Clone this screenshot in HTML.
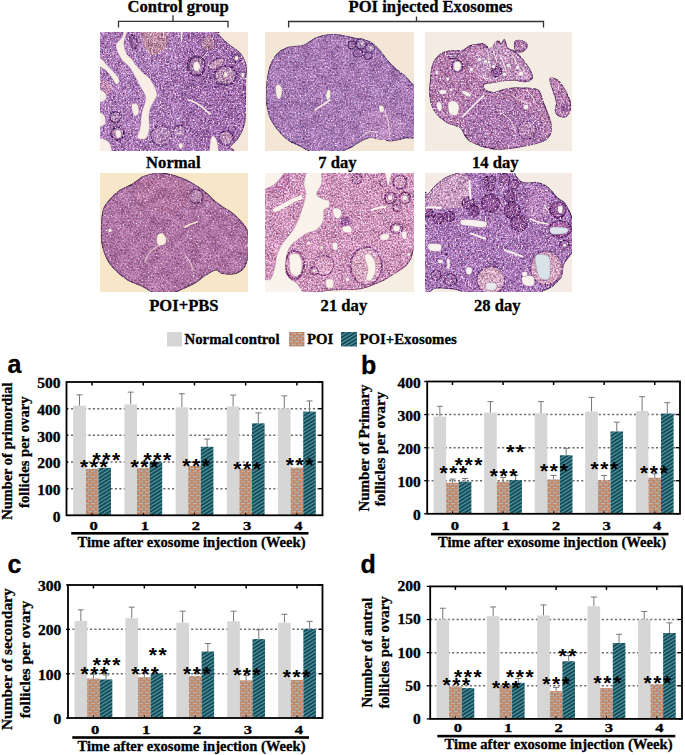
<!DOCTYPE html>
<html><head><meta charset="utf-8"><style>
html,body{margin:0;padding:0;background:#fff;width:685px;height:755px;overflow:hidden}
.t{position:absolute;white-space:nowrap;font-family:"Liberation Serif",serif;font-weight:bold;color:#000;line-height:1}
.p{position:absolute;font-family:"Liberation Sans",sans-serif;font-weight:bold;line-height:1}
</style></head><body>
<svg width="685" height="755" viewBox="0 0 685 755" style="position:absolute;left:0;top:0">
<defs>
<pattern id="brick" patternUnits="userSpaceOnUse" width="6" height="5.4" x="0" y="0">
  <rect width="6" height="5.4" fill="#c97a4c"/>
  <rect x="0.7" y="0.6" width="4.6" height="1.6" fill="#b0b6bd"/>
  <rect x="-2.3" y="3.3" width="4.6" height="1.6" fill="#b0b6bd"/>
  <rect x="3.7" y="3.3" width="4.6" height="1.6" fill="#b0b6bd"/>
</pattern>
<pattern id="teal" patternUnits="userSpaceOnUse" width="3" height="3.1" patternTransform="rotate(-32)">
  <rect width="3" height="3.1" fill="#124c56"/>
  <rect width="3" height="1.1" y="0" fill="#5a99a9"/>
</pattern>
<clipPath id="clip0"><rect x="100" y="32" width="148" height="119"/></clipPath>
<filter id="grain0" x="0" y="0" width="100%" height="100%" color-interpolation-filters="sRGB">
  <feTurbulence type="fractalNoise" baseFrequency="0.6" numOctaves="2" seed="4" result="n0"/>
  <feGaussianBlur in="n0" stdDeviation="0.35" result="n"/>
  <feColorMatrix in="n" type="matrix" values="1 0.3 0 0 -0.15  1 0 0 0 0  1 -0.2 0 0 0.1  0 0 0 0 1" result="nc"/>
  <feComposite in="SourceGraphic" in2="nc" operator="arithmetic" k1="0" k2="1" k3="0.85" k4="-0.425" result="m1"/>
  <feTurbulence type="fractalNoise" baseFrequency="0.1" numOctaves="2" seed="15" result="l0"/>
  <feColorMatrix in="l0" type="matrix" values="1 0 0 0 0  1 0 0 0 0  1 0 0 0 0  0 0 0 0 1" result="lc"/>
  <feComposite in="m1" in2="lc" operator="arithmetic" k1="0" k2="1" k3="0.2" k4="-0.1" result="m"/>
  <feColorMatrix in="n" type="matrix" values="0 0 0 0 0.96  0 0 0 0 0.94  0 0 0 0 0.96  0 0 0 6.0 -3.7" result="w"/>
  <feMerge result="mm"><feMergeNode in="m"/><feMergeNode in="w"/></feMerge>
  <feComposite in="mm" in2="SourceGraphic" operator="in"/>
</filter><clipPath id="clip1"><rect x="265" y="32" width="149" height="119"/></clipPath>
<filter id="grain1" x="0" y="0" width="100%" height="100%" color-interpolation-filters="sRGB">
  <feTurbulence type="fractalNoise" baseFrequency="0.6" numOctaves="2" seed="5" result="n0"/>
  <feGaussianBlur in="n0" stdDeviation="0.35" result="n"/>
  <feColorMatrix in="n" type="matrix" values="1 0.3 0 0 -0.15  1 0 0 0 0  1 -0.2 0 0 0.1  0 0 0 0 1" result="nc"/>
  <feComposite in="SourceGraphic" in2="nc" operator="arithmetic" k1="0" k2="1" k3="0.65" k4="-0.325" result="m1"/>
  <feTurbulence type="fractalNoise" baseFrequency="0.1" numOctaves="2" seed="16" result="l0"/>
  <feColorMatrix in="l0" type="matrix" values="1 0 0 0 0  1 0 0 0 0  1 0 0 0 0  0 0 0 0 1" result="lc"/>
  <feComposite in="m1" in2="lc" operator="arithmetic" k1="0" k2="1" k3="0.2" k4="-0.1" result="m"/>
  <feColorMatrix in="n" type="matrix" values="0 0 0 0 0.96  0 0 0 0 0.94  0 0 0 0 0.96  0 0 0 6.0 -3.95" result="w"/>
  <feMerge result="mm"><feMergeNode in="m"/><feMergeNode in="w"/></feMerge>
  <feComposite in="mm" in2="SourceGraphic" operator="in"/>
</filter><clipPath id="clip2"><rect x="425" y="32" width="147" height="119"/></clipPath>
<filter id="grain2" x="0" y="0" width="100%" height="100%" color-interpolation-filters="sRGB">
  <feTurbulence type="fractalNoise" baseFrequency="0.6" numOctaves="2" seed="6" result="n0"/>
  <feGaussianBlur in="n0" stdDeviation="0.35" result="n"/>
  <feColorMatrix in="n" type="matrix" values="1 0.3 0 0 -0.15  1 0 0 0 0  1 -0.2 0 0 0.1  0 0 0 0 1" result="nc"/>
  <feComposite in="SourceGraphic" in2="nc" operator="arithmetic" k1="0" k2="1" k3="0.85" k4="-0.425" result="m1"/>
  <feTurbulence type="fractalNoise" baseFrequency="0.1" numOctaves="2" seed="17" result="l0"/>
  <feColorMatrix in="l0" type="matrix" values="1 0 0 0 0  1 0 0 0 0  1 0 0 0 0  0 0 0 0 1" result="lc"/>
  <feComposite in="m1" in2="lc" operator="arithmetic" k1="0" k2="1" k3="0.2" k4="-0.1" result="m"/>
  <feColorMatrix in="n" type="matrix" values="0 0 0 0 0.96  0 0 0 0 0.94  0 0 0 0 0.96  0 0 0 6.0 -3.7" result="w"/>
  <feMerge result="mm"><feMergeNode in="m"/><feMergeNode in="w"/></feMerge>
  <feComposite in="mm" in2="SourceGraphic" operator="in"/>
</filter><clipPath id="clip3"><rect x="100" y="173" width="148" height="119"/></clipPath>
<filter id="grain3" x="0" y="0" width="100%" height="100%" color-interpolation-filters="sRGB">
  <feTurbulence type="fractalNoise" baseFrequency="0.6" numOctaves="2" seed="7" result="n0"/>
  <feGaussianBlur in="n0" stdDeviation="0.35" result="n"/>
  <feColorMatrix in="n" type="matrix" values="1 0.3 0 0 -0.15  1 0 0 0 0  1 -0.2 0 0 0.1  0 0 0 0 1" result="nc"/>
  <feComposite in="SourceGraphic" in2="nc" operator="arithmetic" k1="0" k2="1" k3="0.6" k4="-0.3" result="m1"/>
  <feTurbulence type="fractalNoise" baseFrequency="0.1" numOctaves="2" seed="18" result="l0"/>
  <feColorMatrix in="l0" type="matrix" values="1 0 0 0 0  1 0 0 0 0  1 0 0 0 0  0 0 0 0 1" result="lc"/>
  <feComposite in="m1" in2="lc" operator="arithmetic" k1="0" k2="1" k3="0.2" k4="-0.1" result="m"/>
  <feColorMatrix in="n" type="matrix" values="0 0 0 0 0.96  0 0 0 0 0.94  0 0 0 0 0.96  0 0 0 6.0 -4.1" result="w"/>
  <feMerge result="mm"><feMergeNode in="m"/><feMergeNode in="w"/></feMerge>
  <feComposite in="mm" in2="SourceGraphic" operator="in"/>
</filter><clipPath id="clip4"><rect x="265" y="173" width="149" height="119"/></clipPath>
<filter id="grain4" x="0" y="0" width="100%" height="100%" color-interpolation-filters="sRGB">
  <feTurbulence type="fractalNoise" baseFrequency="0.6" numOctaves="2" seed="8" result="n0"/>
  <feGaussianBlur in="n0" stdDeviation="0.35" result="n"/>
  <feColorMatrix in="n" type="matrix" values="1 0.3 0 0 -0.15  1 0 0 0 0  1 -0.2 0 0 0.1  0 0 0 0 1" result="nc"/>
  <feComposite in="SourceGraphic" in2="nc" operator="arithmetic" k1="0" k2="1" k3="0.85" k4="-0.425" result="m1"/>
  <feTurbulence type="fractalNoise" baseFrequency="0.1" numOctaves="2" seed="19" result="l0"/>
  <feColorMatrix in="l0" type="matrix" values="1 0 0 0 0  1 0 0 0 0  1 0 0 0 0  0 0 0 0 1" result="lc"/>
  <feComposite in="m1" in2="lc" operator="arithmetic" k1="0" k2="1" k3="0.2" k4="-0.1" result="m"/>
  <feColorMatrix in="n" type="matrix" values="0 0 0 0 0.96  0 0 0 0 0.94  0 0 0 0 0.96  0 0 0 6.0 -3.7" result="w"/>
  <feMerge result="mm"><feMergeNode in="m"/><feMergeNode in="w"/></feMerge>
  <feComposite in="mm" in2="SourceGraphic" operator="in"/>
</filter><clipPath id="clip5"><rect x="425" y="173" width="147" height="119"/></clipPath>
<filter id="grain5" x="0" y="0" width="100%" height="100%" color-interpolation-filters="sRGB">
  <feTurbulence type="fractalNoise" baseFrequency="0.6" numOctaves="2" seed="9" result="n0"/>
  <feGaussianBlur in="n0" stdDeviation="0.35" result="n"/>
  <feColorMatrix in="n" type="matrix" values="1 0.3 0 0 -0.15  1 0 0 0 0  1 -0.2 0 0 0.1  0 0 0 0 1" result="nc"/>
  <feComposite in="SourceGraphic" in2="nc" operator="arithmetic" k1="0" k2="1" k3="0.85" k4="-0.425" result="m1"/>
  <feTurbulence type="fractalNoise" baseFrequency="0.1" numOctaves="2" seed="20" result="l0"/>
  <feColorMatrix in="l0" type="matrix" values="1 0 0 0 0  1 0 0 0 0  1 0 0 0 0  0 0 0 0 1" result="lc"/>
  <feComposite in="m1" in2="lc" operator="arithmetic" k1="0" k2="1" k3="0.2" k4="-0.1" result="m"/>
  <feColorMatrix in="n" type="matrix" values="0 0 0 0 0.96  0 0 0 0 0.94  0 0 0 0 0.96  0 0 0 6.0 -3.7" result="w"/>
  <feMerge result="mm"><feMergeNode in="m"/><feMergeNode in="w"/></feMerge>
  <feComposite in="mm" in2="SourceGraphic" operator="in"/>
</filter></defs>
<line x1="66.5" y1="488.64" x2="322.5" y2="488.64" stroke="#6a6a6a" stroke-width="1.5" stroke-dasharray="2.1,2.3"/>
<line x1="66.5" y1="461.98" x2="322.5" y2="461.98" stroke="#6a6a6a" stroke-width="1.5" stroke-dasharray="2.1,2.3"/>
<line x1="66.5" y1="435.32" x2="322.5" y2="435.32" stroke="#6a6a6a" stroke-width="1.5" stroke-dasharray="2.1,2.3"/>
<line x1="66.5" y1="408.66" x2="322.5" y2="408.66" stroke="#6a6a6a" stroke-width="1.5" stroke-dasharray="2.1,2.3"/>
<line x1="79.50" y1="405.73" x2="79.50" y2="394.80" stroke="#777" stroke-width="1"/>
<line x1="76.50" y1="394.80" x2="82.50" y2="394.80" stroke="#777" stroke-width="1"/>
<rect x="73.20" y="405.73" width="12.6" height="109.57" fill="#d6d6d6"/>
<rect x="85.80" y="468.64" width="12.6" height="46.65" fill="url(#brick)"/>
<rect x="98.40" y="467.85" width="12.6" height="47.45" fill="url(#teal)"/>
<line x1="92.10" y1="382" x2="92.10" y2="385.5" stroke="#000" stroke-width="1.5"/>
<line x1="92.10" y1="515.3" x2="92.10" y2="512.8" stroke="#000" stroke-width="1"/>
<line x1="130.70" y1="404.39" x2="130.70" y2="392.13" stroke="#777" stroke-width="1"/>
<line x1="127.70" y1="392.13" x2="133.70" y2="392.13" stroke="#777" stroke-width="1"/>
<rect x="124.40" y="404.39" width="12.6" height="110.91" fill="#d6d6d6"/>
<rect x="137.00" y="467.85" width="12.6" height="47.45" fill="url(#brick)"/>
<rect x="149.60" y="461.71" width="12.6" height="53.59" fill="url(#teal)"/>
<line x1="143.30" y1="382" x2="143.30" y2="385.5" stroke="#000" stroke-width="1.5"/>
<line x1="143.30" y1="515.3" x2="143.30" y2="512.8" stroke="#000" stroke-width="1"/>
<line x1="181.90" y1="407.33" x2="181.90" y2="393.73" stroke="#777" stroke-width="1"/>
<line x1="178.90" y1="393.73" x2="184.90" y2="393.73" stroke="#777" stroke-width="1"/>
<rect x="175.60" y="407.33" width="12.6" height="107.97" fill="#d6d6d6"/>
<rect x="188.20" y="465.98" width="12.6" height="49.32" fill="url(#brick)"/>
<line x1="207.10" y1="446.78" x2="207.10" y2="439.05" stroke="#777" stroke-width="1"/>
<line x1="204.10" y1="439.05" x2="210.10" y2="439.05" stroke="#777" stroke-width="1"/>
<rect x="200.80" y="446.78" width="12.6" height="68.52" fill="url(#teal)"/>
<line x1="194.50" y1="382" x2="194.50" y2="385.5" stroke="#000" stroke-width="1.5"/>
<line x1="194.50" y1="515.3" x2="194.50" y2="512.8" stroke="#000" stroke-width="1"/>
<line x1="233.10" y1="406.53" x2="233.10" y2="395.06" stroke="#777" stroke-width="1"/>
<line x1="230.10" y1="395.06" x2="236.10" y2="395.06" stroke="#777" stroke-width="1"/>
<rect x="226.80" y="406.53" width="12.6" height="108.77" fill="#d6d6d6"/>
<rect x="239.40" y="468.64" width="12.6" height="46.65" fill="url(#brick)"/>
<line x1="258.30" y1="423.32" x2="258.30" y2="412.93" stroke="#777" stroke-width="1"/>
<line x1="255.30" y1="412.93" x2="261.30" y2="412.93" stroke="#777" stroke-width="1"/>
<rect x="252.00" y="423.32" width="12.6" height="91.98" fill="url(#teal)"/>
<line x1="245.70" y1="382" x2="245.70" y2="385.5" stroke="#000" stroke-width="1.5"/>
<line x1="245.70" y1="515.3" x2="245.70" y2="512.8" stroke="#000" stroke-width="1"/>
<line x1="284.30" y1="408.39" x2="284.30" y2="395.86" stroke="#777" stroke-width="1"/>
<line x1="281.30" y1="395.86" x2="287.30" y2="395.86" stroke="#777" stroke-width="1"/>
<rect x="278.00" y="408.39" width="12.6" height="106.91" fill="#d6d6d6"/>
<rect x="290.60" y="467.58" width="12.6" height="47.72" fill="url(#brick)"/>
<line x1="309.50" y1="411.59" x2="309.50" y2="400.93" stroke="#777" stroke-width="1"/>
<line x1="306.50" y1="400.93" x2="312.50" y2="400.93" stroke="#777" stroke-width="1"/>
<rect x="303.20" y="411.59" width="12.6" height="103.71" fill="url(#teal)"/>
<line x1="296.90" y1="382" x2="296.90" y2="385.5" stroke="#000" stroke-width="1.5"/>
<line x1="296.90" y1="515.3" x2="296.90" y2="512.8" stroke="#000" stroke-width="1"/>
<line x1="66.5" y1="515.30" x2="68.0" y2="515.30" stroke="#000" stroke-width="1.3"/>
<line x1="318.5" y1="515.30" x2="322.5" y2="515.30" stroke="#000" stroke-width="1.3"/>
<line x1="66.5" y1="488.64" x2="68.0" y2="488.64" stroke="#000" stroke-width="1.3"/>
<line x1="318.5" y1="488.64" x2="322.5" y2="488.64" stroke="#000" stroke-width="1.3"/>
<line x1="66.5" y1="461.98" x2="68.0" y2="461.98" stroke="#000" stroke-width="1.3"/>
<line x1="318.5" y1="461.98" x2="322.5" y2="461.98" stroke="#000" stroke-width="1.3"/>
<line x1="66.5" y1="435.32" x2="68.0" y2="435.32" stroke="#000" stroke-width="1.3"/>
<line x1="318.5" y1="435.32" x2="322.5" y2="435.32" stroke="#000" stroke-width="1.3"/>
<line x1="66.5" y1="408.66" x2="68.0" y2="408.66" stroke="#000" stroke-width="1.3"/>
<line x1="318.5" y1="408.66" x2="322.5" y2="408.66" stroke="#000" stroke-width="1.3"/>
<line x1="66.5" y1="382.00" x2="68.0" y2="382.00" stroke="#000" stroke-width="1.3"/>
<line x1="318.5" y1="382.00" x2="322.5" y2="382.00" stroke="#000" stroke-width="1.3"/>
<rect x="66.5" y="382" width="256.0" height="133.29999999999995" fill="none" stroke="#000" stroke-width="1.8"/>
<line x1="427.2" y1="480.72" x2="680" y2="480.72" stroke="#6a6a6a" stroke-width="1.5" stroke-dasharray="2.1,2.3"/>
<line x1="427.2" y1="447.65" x2="680" y2="447.65" stroke="#6a6a6a" stroke-width="1.5" stroke-dasharray="2.1,2.3"/>
<line x1="427.2" y1="414.57" x2="680" y2="414.57" stroke="#6a6a6a" stroke-width="1.5" stroke-dasharray="2.1,2.3"/>
<line x1="439.88" y1="416.56" x2="439.88" y2="406.31" stroke="#777" stroke-width="1"/>
<line x1="436.88" y1="406.31" x2="442.88" y2="406.31" stroke="#777" stroke-width="1"/>
<rect x="433.58" y="416.56" width="12.6" height="97.24" fill="#d6d6d6"/>
<line x1="452.48" y1="482.71" x2="452.48" y2="479.07" stroke="#777" stroke-width="1"/>
<line x1="449.48" y1="479.07" x2="455.48" y2="479.07" stroke="#777" stroke-width="1"/>
<rect x="446.18" y="482.71" width="12.6" height="31.09" fill="url(#brick)"/>
<line x1="465.08" y1="481.72" x2="465.08" y2="478.41" stroke="#777" stroke-width="1"/>
<line x1="462.08" y1="478.41" x2="468.08" y2="478.41" stroke="#777" stroke-width="1"/>
<rect x="458.78" y="481.72" width="12.6" height="32.08" fill="url(#teal)"/>
<line x1="452.48" y1="381.5" x2="452.48" y2="385.0" stroke="#000" stroke-width="1.5"/>
<line x1="452.48" y1="513.8" x2="452.48" y2="511.29999999999995" stroke="#000" stroke-width="1"/>
<line x1="490.44" y1="412.59" x2="490.44" y2="401.68" stroke="#777" stroke-width="1"/>
<line x1="487.44" y1="401.68" x2="493.44" y2="401.68" stroke="#777" stroke-width="1"/>
<rect x="484.14" y="412.59" width="12.6" height="101.21" fill="#d6d6d6"/>
<line x1="503.04" y1="481.72" x2="503.04" y2="477.42" stroke="#777" stroke-width="1"/>
<line x1="500.04" y1="477.42" x2="506.04" y2="477.42" stroke="#777" stroke-width="1"/>
<rect x="496.74" y="481.72" width="12.6" height="32.08" fill="url(#brick)"/>
<line x1="515.64" y1="480.06" x2="515.64" y2="475.10" stroke="#777" stroke-width="1"/>
<line x1="512.64" y1="475.10" x2="518.64" y2="475.10" stroke="#777" stroke-width="1"/>
<rect x="509.34" y="480.06" width="12.6" height="33.74" fill="url(#teal)"/>
<line x1="503.04" y1="381.5" x2="503.04" y2="385.0" stroke="#000" stroke-width="1.5"/>
<line x1="503.04" y1="513.8" x2="503.04" y2="511.29999999999995" stroke="#000" stroke-width="1"/>
<line x1="541.00" y1="413.25" x2="541.00" y2="401.68" stroke="#777" stroke-width="1"/>
<line x1="538.00" y1="401.68" x2="544.00" y2="401.68" stroke="#777" stroke-width="1"/>
<rect x="534.70" y="413.25" width="12.6" height="100.55" fill="#d6d6d6"/>
<line x1="553.60" y1="479.40" x2="553.60" y2="475.43" stroke="#777" stroke-width="1"/>
<line x1="550.60" y1="475.43" x2="556.60" y2="475.43" stroke="#777" stroke-width="1"/>
<rect x="547.30" y="479.40" width="12.6" height="34.40" fill="url(#brick)"/>
<line x1="566.20" y1="455.26" x2="566.20" y2="448.31" stroke="#777" stroke-width="1"/>
<line x1="563.20" y1="448.31" x2="569.20" y2="448.31" stroke="#777" stroke-width="1"/>
<rect x="559.90" y="455.26" width="12.6" height="58.54" fill="url(#teal)"/>
<line x1="553.60" y1="381.5" x2="553.60" y2="385.0" stroke="#000" stroke-width="1.5"/>
<line x1="553.60" y1="513.8" x2="553.60" y2="511.29999999999995" stroke="#000" stroke-width="1"/>
<line x1="591.56" y1="411.60" x2="591.56" y2="397.38" stroke="#777" stroke-width="1"/>
<line x1="588.56" y1="397.38" x2="594.56" y2="397.38" stroke="#777" stroke-width="1"/>
<rect x="585.26" y="411.60" width="12.6" height="102.20" fill="#d6d6d6"/>
<line x1="604.16" y1="480.39" x2="604.16" y2="475.43" stroke="#777" stroke-width="1"/>
<line x1="601.16" y1="475.43" x2="607.16" y2="475.43" stroke="#777" stroke-width="1"/>
<rect x="597.86" y="480.39" width="12.6" height="33.41" fill="url(#brick)"/>
<line x1="616.76" y1="431.44" x2="616.76" y2="422.18" stroke="#777" stroke-width="1"/>
<line x1="613.76" y1="422.18" x2="619.76" y2="422.18" stroke="#777" stroke-width="1"/>
<rect x="610.46" y="431.44" width="12.6" height="82.36" fill="url(#teal)"/>
<line x1="604.16" y1="381.5" x2="604.16" y2="385.0" stroke="#000" stroke-width="1.5"/>
<line x1="604.16" y1="513.8" x2="604.16" y2="511.29999999999995" stroke="#000" stroke-width="1"/>
<line x1="642.12" y1="410.94" x2="642.12" y2="396.71" stroke="#777" stroke-width="1"/>
<line x1="639.12" y1="396.71" x2="645.12" y2="396.71" stroke="#777" stroke-width="1"/>
<rect x="635.82" y="410.94" width="12.6" height="102.86" fill="#d6d6d6"/>
<line x1="654.72" y1="477.75" x2="654.72" y2="473.78" stroke="#777" stroke-width="1"/>
<line x1="651.72" y1="473.78" x2="657.72" y2="473.78" stroke="#777" stroke-width="1"/>
<rect x="648.42" y="477.75" width="12.6" height="36.05" fill="url(#brick)"/>
<line x1="667.32" y1="413.58" x2="667.32" y2="402.67" stroke="#777" stroke-width="1"/>
<line x1="664.32" y1="402.67" x2="670.32" y2="402.67" stroke="#777" stroke-width="1"/>
<rect x="661.02" y="413.58" width="12.6" height="100.22" fill="url(#teal)"/>
<line x1="654.72" y1="381.5" x2="654.72" y2="385.0" stroke="#000" stroke-width="1.5"/>
<line x1="654.72" y1="513.8" x2="654.72" y2="511.29999999999995" stroke="#000" stroke-width="1"/>
<line x1="424.2" y1="513.80" x2="427.2" y2="513.80" stroke="#000" stroke-width="1.3"/>
<line x1="676" y1="513.80" x2="680" y2="513.80" stroke="#000" stroke-width="1.3"/>
<line x1="424.2" y1="480.72" x2="427.2" y2="480.72" stroke="#000" stroke-width="1.3"/>
<line x1="676" y1="480.72" x2="680" y2="480.72" stroke="#000" stroke-width="1.3"/>
<line x1="424.2" y1="447.65" x2="427.2" y2="447.65" stroke="#000" stroke-width="1.3"/>
<line x1="676" y1="447.65" x2="680" y2="447.65" stroke="#000" stroke-width="1.3"/>
<line x1="424.2" y1="414.57" x2="427.2" y2="414.57" stroke="#000" stroke-width="1.3"/>
<line x1="676" y1="414.57" x2="680" y2="414.57" stroke="#000" stroke-width="1.3"/>
<line x1="424.2" y1="381.50" x2="427.2" y2="381.50" stroke="#000" stroke-width="1.3"/>
<line x1="676" y1="381.50" x2="680" y2="381.50" stroke="#000" stroke-width="1.3"/>
<rect x="427.2" y="381.5" width="252.8" height="132.29999999999995" fill="none" stroke="#000" stroke-width="1.8"/>
<line x1="68" y1="673.67" x2="322.5" y2="673.67" stroke="#6a6a6a" stroke-width="1.5" stroke-dasharray="2.1,2.3"/>
<line x1="68" y1="629.33" x2="322.5" y2="629.33" stroke="#6a6a6a" stroke-width="1.5" stroke-dasharray="2.1,2.3"/>
<line x1="80.85" y1="620.91" x2="80.85" y2="609.83" stroke="#777" stroke-width="1"/>
<line x1="77.85" y1="609.83" x2="83.85" y2="609.83" stroke="#777" stroke-width="1"/>
<rect x="74.55" y="620.91" width="12.6" height="97.09" fill="#d6d6d6"/>
<line x1="93.45" y1="678.54" x2="93.45" y2="674.11" stroke="#777" stroke-width="1"/>
<line x1="90.45" y1="674.11" x2="96.45" y2="674.11" stroke="#777" stroke-width="1"/>
<rect x="87.15" y="678.54" width="12.6" height="39.46" fill="url(#brick)"/>
<line x1="106.05" y1="679.43" x2="106.05" y2="675.00" stroke="#777" stroke-width="1"/>
<line x1="103.05" y1="675.00" x2="109.05" y2="675.00" stroke="#777" stroke-width="1"/>
<rect x="99.75" y="679.43" width="12.6" height="38.57" fill="url(#teal)"/>
<line x1="93.45" y1="585" x2="93.45" y2="588.5" stroke="#000" stroke-width="1.5"/>
<line x1="93.45" y1="718" x2="93.45" y2="715.5" stroke="#000" stroke-width="1"/>
<line x1="131.75" y1="618.25" x2="131.75" y2="607.17" stroke="#777" stroke-width="1"/>
<line x1="128.75" y1="607.17" x2="134.75" y2="607.17" stroke="#777" stroke-width="1"/>
<rect x="125.45" y="618.25" width="12.6" height="99.75" fill="#d6d6d6"/>
<line x1="144.35" y1="677.21" x2="144.35" y2="673.22" stroke="#777" stroke-width="1"/>
<line x1="141.35" y1="673.22" x2="147.35" y2="673.22" stroke="#777" stroke-width="1"/>
<rect x="138.05" y="677.21" width="12.6" height="40.79" fill="url(#brick)"/>
<rect x="150.65" y="673.22" width="12.6" height="44.78" fill="url(#teal)"/>
<line x1="144.35" y1="585" x2="144.35" y2="588.5" stroke="#000" stroke-width="1.5"/>
<line x1="144.35" y1="718" x2="144.35" y2="715.5" stroke="#000" stroke-width="1"/>
<line x1="182.65" y1="622.68" x2="182.65" y2="611.16" stroke="#777" stroke-width="1"/>
<line x1="179.65" y1="611.16" x2="185.65" y2="611.16" stroke="#777" stroke-width="1"/>
<rect x="176.35" y="622.68" width="12.6" height="95.32" fill="#d6d6d6"/>
<rect x="188.95" y="675.88" width="12.6" height="42.12" fill="url(#brick)"/>
<line x1="207.85" y1="651.50" x2="207.85" y2="643.52" stroke="#777" stroke-width="1"/>
<line x1="204.85" y1="643.52" x2="210.85" y2="643.52" stroke="#777" stroke-width="1"/>
<rect x="201.55" y="651.50" width="12.6" height="66.50" fill="url(#teal)"/>
<line x1="195.25" y1="585" x2="195.25" y2="588.5" stroke="#000" stroke-width="1.5"/>
<line x1="195.25" y1="718" x2="195.25" y2="715.5" stroke="#000" stroke-width="1"/>
<line x1="233.55" y1="621.35" x2="233.55" y2="611.16" stroke="#777" stroke-width="1"/>
<line x1="230.55" y1="611.16" x2="236.55" y2="611.16" stroke="#777" stroke-width="1"/>
<rect x="227.25" y="621.35" width="12.6" height="96.65" fill="#d6d6d6"/>
<line x1="246.15" y1="680.32" x2="246.15" y2="675.44" stroke="#777" stroke-width="1"/>
<line x1="243.15" y1="675.44" x2="249.15" y2="675.44" stroke="#777" stroke-width="1"/>
<rect x="239.85" y="680.32" width="12.6" height="37.68" fill="url(#brick)"/>
<line x1="258.75" y1="639.09" x2="258.75" y2="629.78" stroke="#777" stroke-width="1"/>
<line x1="255.75" y1="629.78" x2="261.75" y2="629.78" stroke="#777" stroke-width="1"/>
<rect x="252.45" y="639.09" width="12.6" height="78.91" fill="url(#teal)"/>
<line x1="246.15" y1="585" x2="246.15" y2="588.5" stroke="#000" stroke-width="1.5"/>
<line x1="246.15" y1="718" x2="246.15" y2="715.5" stroke="#000" stroke-width="1"/>
<line x1="284.45" y1="622.68" x2="284.45" y2="614.26" stroke="#777" stroke-width="1"/>
<line x1="281.45" y1="614.26" x2="287.45" y2="614.26" stroke="#777" stroke-width="1"/>
<rect x="278.15" y="622.68" width="12.6" height="95.32" fill="#d6d6d6"/>
<rect x="290.75" y="679.87" width="12.6" height="38.13" fill="url(#brick)"/>
<line x1="309.65" y1="628.89" x2="309.65" y2="621.35" stroke="#777" stroke-width="1"/>
<line x1="306.65" y1="621.35" x2="312.65" y2="621.35" stroke="#777" stroke-width="1"/>
<rect x="303.35" y="628.89" width="12.6" height="89.11" fill="url(#teal)"/>
<line x1="297.05" y1="585" x2="297.05" y2="588.5" stroke="#000" stroke-width="1.5"/>
<line x1="297.05" y1="718" x2="297.05" y2="715.5" stroke="#000" stroke-width="1"/>
<line x1="66" y1="718.00" x2="69.5" y2="718.00" stroke="#000" stroke-width="1.3"/>
<line x1="318.5" y1="718.00" x2="322.5" y2="718.00" stroke="#000" stroke-width="1.3"/>
<line x1="66" y1="673.67" x2="69.5" y2="673.67" stroke="#000" stroke-width="1.3"/>
<line x1="318.5" y1="673.67" x2="322.5" y2="673.67" stroke="#000" stroke-width="1.3"/>
<line x1="66" y1="629.33" x2="69.5" y2="629.33" stroke="#000" stroke-width="1.3"/>
<line x1="318.5" y1="629.33" x2="322.5" y2="629.33" stroke="#000" stroke-width="1.3"/>
<line x1="66" y1="585.00" x2="69.5" y2="585.00" stroke="#000" stroke-width="1.3"/>
<line x1="318.5" y1="585.00" x2="322.5" y2="585.00" stroke="#000" stroke-width="1.3"/>
<rect x="68" y="585" width="254.5" height="133" fill="none" stroke="#000" stroke-width="1.8"/>
<line x1="430.2" y1="685.77" x2="682" y2="685.77" stroke="#6a6a6a" stroke-width="1.5" stroke-dasharray="2.1,2.3"/>
<line x1="430.2" y1="652.65" x2="682" y2="652.65" stroke="#6a6a6a" stroke-width="1.5" stroke-dasharray="2.1,2.3"/>
<line x1="430.2" y1="619.52" x2="682" y2="619.52" stroke="#6a6a6a" stroke-width="1.5" stroke-dasharray="2.1,2.3"/>
<line x1="442.78" y1="619.52" x2="442.78" y2="608.26" stroke="#777" stroke-width="1"/>
<line x1="439.78" y1="608.26" x2="445.78" y2="608.26" stroke="#777" stroke-width="1"/>
<rect x="436.48" y="619.52" width="12.6" height="99.38" fill="#d6d6d6"/>
<rect x="449.08" y="686.44" width="12.6" height="32.46" fill="url(#brick)"/>
<rect x="461.68" y="688.09" width="12.6" height="30.81" fill="url(#teal)"/>
<line x1="455.38" y1="586.4" x2="455.38" y2="589.9" stroke="#000" stroke-width="1.5"/>
<line x1="455.38" y1="718.9" x2="455.38" y2="716.4" stroke="#000" stroke-width="1"/>
<line x1="493.14" y1="616.21" x2="493.14" y2="606.94" stroke="#777" stroke-width="1"/>
<line x1="490.14" y1="606.94" x2="496.14" y2="606.94" stroke="#777" stroke-width="1"/>
<rect x="486.84" y="616.21" width="12.6" height="102.69" fill="#d6d6d6"/>
<rect x="499.44" y="685.77" width="12.6" height="33.12" fill="url(#brick)"/>
<line x1="518.34" y1="682.79" x2="518.34" y2="678.49" stroke="#777" stroke-width="1"/>
<line x1="515.34" y1="678.49" x2="521.34" y2="678.49" stroke="#777" stroke-width="1"/>
<rect x="512.04" y="682.79" width="12.6" height="36.11" fill="url(#teal)"/>
<line x1="505.74" y1="586.4" x2="505.74" y2="589.9" stroke="#000" stroke-width="1.5"/>
<line x1="505.74" y1="718.9" x2="505.74" y2="716.4" stroke="#000" stroke-width="1"/>
<line x1="543.50" y1="615.55" x2="543.50" y2="604.95" stroke="#777" stroke-width="1"/>
<line x1="540.50" y1="604.95" x2="546.50" y2="604.95" stroke="#777" stroke-width="1"/>
<rect x="537.20" y="615.55" width="12.6" height="103.35" fill="#d6d6d6"/>
<line x1="556.10" y1="691.07" x2="556.10" y2="687.43" stroke="#777" stroke-width="1"/>
<line x1="553.10" y1="687.43" x2="559.10" y2="687.43" stroke="#777" stroke-width="1"/>
<rect x="549.80" y="691.07" width="12.6" height="27.83" fill="url(#brick)"/>
<line x1="568.70" y1="661.26" x2="568.70" y2="655.63" stroke="#777" stroke-width="1"/>
<line x1="565.70" y1="655.63" x2="571.70" y2="655.63" stroke="#777" stroke-width="1"/>
<rect x="562.40" y="661.26" width="12.6" height="57.64" fill="url(#teal)"/>
<line x1="556.10" y1="586.4" x2="556.10" y2="589.9" stroke="#000" stroke-width="1.5"/>
<line x1="556.10" y1="718.9" x2="556.10" y2="716.4" stroke="#000" stroke-width="1"/>
<line x1="593.86" y1="606.27" x2="593.86" y2="597.00" stroke="#777" stroke-width="1"/>
<line x1="590.86" y1="597.00" x2="596.86" y2="597.00" stroke="#777" stroke-width="1"/>
<rect x="587.56" y="606.27" width="12.6" height="112.62" fill="#d6d6d6"/>
<rect x="600.16" y="688.09" width="12.6" height="30.81" fill="url(#brick)"/>
<line x1="619.06" y1="642.98" x2="619.06" y2="634.30" stroke="#777" stroke-width="1"/>
<line x1="616.06" y1="634.30" x2="622.06" y2="634.30" stroke="#777" stroke-width="1"/>
<rect x="612.76" y="642.98" width="12.6" height="75.92" fill="url(#teal)"/>
<line x1="606.46" y1="586.4" x2="606.46" y2="589.9" stroke="#000" stroke-width="1.5"/>
<line x1="606.46" y1="718.9" x2="606.46" y2="716.4" stroke="#000" stroke-width="1"/>
<line x1="644.22" y1="619.52" x2="644.22" y2="611.57" stroke="#777" stroke-width="1"/>
<line x1="641.22" y1="611.57" x2="647.22" y2="611.57" stroke="#777" stroke-width="1"/>
<rect x="637.92" y="619.52" width="12.6" height="99.38" fill="#d6d6d6"/>
<rect x="650.52" y="684.12" width="12.6" height="34.78" fill="url(#brick)"/>
<line x1="669.42" y1="633.04" x2="669.42" y2="622.84" stroke="#777" stroke-width="1"/>
<line x1="666.42" y1="622.84" x2="672.42" y2="622.84" stroke="#777" stroke-width="1"/>
<rect x="663.12" y="633.04" width="12.6" height="85.86" fill="url(#teal)"/>
<line x1="656.82" y1="586.4" x2="656.82" y2="589.9" stroke="#000" stroke-width="1.5"/>
<line x1="656.82" y1="718.9" x2="656.82" y2="716.4" stroke="#000" stroke-width="1"/>
<line x1="426.7" y1="718.90" x2="430.2" y2="718.90" stroke="#000" stroke-width="1.3"/>
<line x1="678" y1="718.90" x2="682" y2="718.90" stroke="#000" stroke-width="1.3"/>
<line x1="426.7" y1="685.77" x2="430.2" y2="685.77" stroke="#000" stroke-width="1.3"/>
<line x1="678" y1="685.77" x2="682" y2="685.77" stroke="#000" stroke-width="1.3"/>
<line x1="426.7" y1="652.65" x2="430.2" y2="652.65" stroke="#000" stroke-width="1.3"/>
<line x1="678" y1="652.65" x2="682" y2="652.65" stroke="#000" stroke-width="1.3"/>
<line x1="426.7" y1="619.52" x2="430.2" y2="619.52" stroke="#000" stroke-width="1.3"/>
<line x1="678" y1="619.52" x2="682" y2="619.52" stroke="#000" stroke-width="1.3"/>
<line x1="426.7" y1="586.40" x2="430.2" y2="586.40" stroke="#000" stroke-width="1.3"/>
<line x1="678" y1="586.40" x2="682" y2="586.40" stroke="#000" stroke-width="1.3"/>
<rect x="430.2" y="586.4" width="251.8" height="132.5" fill="none" stroke="#000" stroke-width="1.8"/>
<g clip-path="url(#clip0)"><rect x="100" y="32" width="148" height="119" fill="#f5e6da"/><g filter="url(#grain0)"><path d="M94.0,26.0 C113.7,4.7 191.5,27.8 212.0,29.0 C232.5,30.2 215.5,31.6 217.0,33.0 C218.5,34.4 219.7,36.1 221.0,37.5 C222.3,38.9 223.3,40.0 225.0,41.5 C226.7,43.0 228.9,44.9 231.0,46.5 C233.1,48.1 236.0,49.4 237.8,51.0 C239.6,52.6 240.8,54.2 242.0,56.0 C243.2,57.8 244.3,60.0 245.0,62.0 C245.7,64.0 246.2,65.0 246.3,68.0 C246.4,71.0 245.8,74.7 245.6,80.0 C245.4,85.3 245.5,93.5 245.4,100.0 C245.3,106.5 245.2,114.9 245.0,119.0 C244.8,123.1 244.7,122.4 244.0,124.8 C243.3,127.2 242.0,131.0 240.7,133.6 C239.4,136.2 238.1,138.0 236.3,140.2 C234.5,142.4 232.1,144.6 229.7,146.7 C227.3,148.8 244.6,151.3 222.0,153.0 C199.4,154.7 115.3,178.2 94.0,157.0 C72.7,135.8 74.3,47.3 94.0,26.0 Z" fill="#a878b4" stroke="#7d4d8a" stroke-width="1.2"/><path d="M185.0,34.0 C188.8,29.7 200.0,33.7 205.0,34.0 C210.0,34.3 210.8,34.0 215.0,36.0 C219.2,38.0 225.5,42.3 230.0,46.0 C234.5,49.7 239.5,52.3 242.0,58.0 C244.5,63.7 244.7,71.3 245.0,80.0 C245.3,88.7 244.8,101.3 244.0,110.0 C243.2,118.7 242.7,126.0 240.0,132.0 C237.3,138.0 234.7,143.3 228.0,146.0 C221.3,148.7 207.2,152.3 200.0,148.0 C192.8,143.7 188.3,129.7 185.0,120.0 C181.7,110.3 180.5,100.0 180.0,90.0 C179.5,80.0 181.2,69.3 182.0,60.0 C182.8,50.7 181.2,38.3 185.0,34.0 Z" fill="#9f6cab"/><path d="M96.0,78.0 C97.3,75.3 101.5,79.0 104.0,80.0 C106.5,81.0 109.7,82.0 111.0,84.0 C112.3,86.0 112.8,90.3 112.0,92.0 C111.2,93.7 108.7,93.3 106.0,94.0 C103.3,94.7 97.7,98.7 96.0,96.0 C94.3,93.3 94.7,80.7 96.0,78.0 Z" fill="#c08ab4"/><path d="M143.0,30.0 C146.7,27.3 162.0,27.7 166.0,30.0 C170.0,32.3 168.0,40.2 167.0,44.0 C166.0,47.8 162.8,51.3 160.0,53.0 C157.2,54.7 152.7,55.2 150.0,54.0 C147.3,52.8 145.2,50.0 144.0,46.0 C142.8,42.0 139.3,32.7 143.0,30.0 Z" fill="#b9889f"/><ellipse cx="207.8" cy="43" rx="7" ry="7.5" fill="#b88aa8" stroke="#8a5a94" stroke-width="1.2"/><ellipse cx="133.5" cy="41.5" rx="3.5" ry="7" fill="#8f5a9a" stroke="#6e3f7c" stroke-width="1.6" transform="rotate(-15 133.5 41.5)"/><ellipse cx="196.4" cy="66" rx="8.5" ry="9.5" fill="#a47aaa" stroke="#5f2f70" stroke-width="2.2"/><ellipse cx="225.4" cy="75.5" rx="11" ry="9.5" fill="#b38ab0" stroke="#6b3a7c" stroke-width="2.0" transform="rotate(-10 225.4 75.5)"/><ellipse cx="216.6" cy="63.8" rx="9" ry="4.5" fill="#bf92b4" stroke="#7a4a88" stroke-width="1.2" transform="rotate(-30 216.6 63.8)"/><ellipse cx="236.3" cy="58.3" rx="4.5" ry="4" fill="#9f6fa9" stroke="#6a3a7a" stroke-width="1.4"/><ellipse cx="115.3" cy="117.2" rx="5.5" ry="5.5" fill="#b088b4" stroke="#6e3f7e" stroke-width="1.6"/><ellipse cx="117.5" cy="133.6" rx="6.5" ry="6.5" fill="#b58cb4" stroke="#6e3f7e" stroke-width="1.8"/><ellipse cx="161.3" cy="135.8" rx="10" ry="10" fill="#b388b8" stroke="#7a4a8a" stroke-width="1.6"/><ellipse cx="179.4" cy="131.4" rx="6" ry="6" fill="#b68fb8" stroke="#7a4a8a" stroke-width="1.3"/><ellipse cx="226.5" cy="138" rx="7" ry="7" fill="#b88cb3" stroke="#74448a" stroke-width="1.5"/><ellipse cx="236" cy="100" rx="7" ry="10" fill="#9d6aa6"/></g><path d="M124.6,29.0 C123.6,30.4 123.2,35.2 121.9,37.5 C120.6,39.8 118.0,41.3 117.0,42.9 C116.0,44.5 115.7,45.5 116.0,47.3 C116.3,49.1 117.5,51.7 118.6,53.9 C119.7,56.1 120.9,58.6 122.5,60.5 C124.1,62.4 126.3,63.6 128.0,65.5 C129.7,67.4 131.0,69.6 132.5,72.0 C134.0,74.4 135.6,77.3 137.0,80.0 C138.4,82.7 139.7,85.5 141.0,88.0 C142.3,90.5 144.2,92.8 145.0,95.0 C145.8,97.2 145.8,99.0 145.5,101.0 C145.2,103.0 144.1,105.2 143.5,107.0 C142.9,108.8 142.4,110.2 142.0,112.0 C141.6,113.8 141.2,115.8 141.0,118.0 C140.8,120.2 140.8,122.7 140.5,125.0 C140.2,127.3 139.5,129.8 139.0,132.0 C138.5,134.2 136.5,136.8 137.5,138.0 C138.5,139.2 143.2,139.8 145.0,139.0 C146.8,138.2 147.8,135.3 148.5,133.0 C149.2,130.7 149.4,127.8 149.5,125.0 C149.6,122.2 148.8,118.8 149.0,116.0 C149.2,113.2 149.7,110.5 150.5,108.0 C151.3,105.5 152.9,103.2 154.0,101.0 C155.1,98.8 156.8,97.0 157.0,95.0 C157.2,93.0 156.3,91.2 155.5,89.0 C154.7,86.8 153.2,84.0 152.0,82.0 C150.8,80.0 149.8,78.6 148.2,77.0 C146.6,75.4 144.3,74.2 142.7,72.6 C141.0,71.0 139.6,68.9 138.3,67.5 C137.0,66.1 136.1,65.4 135.0,64.0 C133.9,62.6 133.2,60.7 131.8,59.0 C130.4,57.3 128.1,56.2 126.8,53.9 C125.5,51.6 124.3,47.6 124.0,45.1 C123.7,42.6 124.1,41.3 124.8,38.6 C125.5,35.9 127.9,30.6 127.9,29.0 C127.9,27.4 125.6,27.6 124.6,29.0 Z" fill="#f8eee6" stroke="#7d4d8a" stroke-opacity="0.35" stroke-width="0.8"/><path d="M96.0,58.0 C97.0,57.2 100.4,58.3 102.2,59.4 C104.0,60.5 104.8,62.8 106.6,64.8 C108.4,66.8 111.1,69.2 113.1,71.4 C115.1,73.6 117.7,76.0 118.6,78.0 C119.5,80.0 119.1,82.6 118.6,83.5 C118.0,84.4 116.4,84.4 115.3,83.5 C114.2,82.6 113.6,80.2 112.0,78.0 C110.4,75.8 108.2,72.6 105.5,70.3 C102.8,68.0 97.6,66.0 96.0,64.0 C94.4,62.0 95.0,58.8 96.0,58.0 Z" fill="#f8eee6" stroke="#7d4d8a" stroke-opacity="0.35" stroke-width="0.8"/><path d="M96.0,90.0 C97.2,88.2 101.2,90.0 103.0,91.0 C104.8,92.0 106.4,94.3 106.6,96.0 C106.8,97.7 105.8,100.0 104.0,101.0 C102.2,102.0 97.3,103.8 96.0,102.0 C94.7,100.2 94.8,91.8 96.0,90.0 Z" fill="#f8eee6" stroke="#7d4d8a" stroke-opacity="0.35" stroke-width="0.8"/><path d="M96.0,113.0 C97.2,111.0 101.4,113.0 103.0,114.0 C104.6,115.0 105.3,117.2 105.5,119.0 C105.7,120.8 105.6,123.8 104.0,125.0 C102.4,126.2 97.3,128.0 96.0,126.0 C94.7,124.0 94.8,115.0 96.0,113.0 Z" fill="#f8eee6" stroke="#7d4d8a" stroke-opacity="0.35" stroke-width="0.8"/><path d="M96.0,139.0 C97.7,136.3 103.5,138.8 106.0,140.0 C108.5,141.2 110.3,143.3 111.0,146.0 C111.7,148.7 112.5,154.3 110.0,156.0 C107.5,157.7 98.3,158.8 96.0,156.0 C93.7,153.2 94.3,141.7 96.0,139.0 Z" fill="#f8eee6" stroke="#7d4d8a" stroke-opacity="0.35" stroke-width="0.8"/><path d="M211.0,138.0 C211.8,134.8 213.9,136.0 215.0,137.0 C216.1,138.0 217.2,140.8 217.7,144.0 C218.2,147.2 219.3,154.0 218.0,156.0 C216.7,158.0 211.2,159.0 210.0,156.0 C208.8,153.0 210.2,141.2 211.0,138.0 Z" fill="#f8eee6" stroke="#7d4d8a" stroke-opacity="0.35" stroke-width="0.8"/><path d="M193.6,63.0 C194.3,61.7 196.9,61.4 198.0,62.0 C199.1,62.6 200.2,65.0 200.2,66.5 C200.2,68.0 199.0,70.4 198.0,71.0 C197.0,71.6 194.7,71.3 194.0,70.0 C193.3,68.7 192.9,64.3 193.6,63.0 Z" fill="#f8eee6" stroke="#7d4d8a" stroke-opacity="0.35" stroke-width="0.8"/><path d="M224.0,72.5 C224.4,71.8 226.4,71.9 227.0,72.5 C227.6,73.1 227.9,75.2 227.5,76.0 C227.1,76.8 225.1,77.6 224.5,77.0 C223.9,76.4 223.6,73.2 224.0,72.5 Z" fill="#f8eee6" stroke="#7d4d8a" stroke-opacity="0.35" stroke-width="0.8"/><path d="M235.0,56.5 C235.5,55.9 237.5,55.9 238.0,56.5 C238.5,57.1 238.5,59.4 238.0,60.0 C237.5,60.6 235.5,60.6 235.0,60.0 C234.5,59.4 234.5,57.1 235.0,56.5 Z" fill="#f8eee6" stroke="#7d4d8a" stroke-opacity="0.35" stroke-width="0.8"/><path d="M241.5,73.0 C241.9,72.3 243.6,72.3 244.0,73.0 C244.4,73.7 244.4,76.3 244.0,77.0 C243.6,77.7 241.9,77.7 241.5,77.0 C241.1,76.3 241.1,73.7 241.5,73.0 Z" fill="#f8eee6" stroke="#7d4d8a" stroke-opacity="0.35" stroke-width="0.8"/><path d="M115.5,131.0 C116.0,129.8 119.1,129.7 120.0,130.5 C120.9,131.3 121.5,134.8 121.0,136.0 C120.5,137.2 117.9,138.8 117.0,138.0 C116.1,137.2 115.0,132.2 115.5,131.0 Z" fill="#f8eee6" stroke="#7d4d8a" stroke-opacity="0.35" stroke-width="0.8"/><path d="M179.0,143.5 C179.6,142.8 181.9,142.8 182.5,143.5 C183.1,144.2 183.1,146.8 182.5,147.5 C181.9,148.2 179.6,148.2 179.0,147.5 C178.4,146.8 178.4,144.2 179.0,143.5 Z" fill="#f8eee6" stroke="#7d4d8a" stroke-opacity="0.35" stroke-width="0.8"/><path d="M132.0,104.0 C132.8,103.0 135.8,102.7 137.0,104.0 C138.2,105.3 139.3,110.0 139.0,112.0 C138.7,114.0 136.2,116.3 135.0,116.0 C133.8,115.7 132.5,112.0 132.0,110.0 C131.5,108.0 131.2,105.0 132.0,104.0 Z" fill="#f8eee6" stroke="#7d4d8a" stroke-opacity="0.35" stroke-width="0.8"/><path d="M188.0,99.7 C189.3,100.2 193.5,101.6 196.0,103.0 C198.5,104.4 200.7,106.2 203.0,108.0 C205.3,109.8 208.8,113.0 210.0,114.0 " fill="none" stroke="#f8eee6" stroke-width="1.6" stroke-linecap="round"/><path d="M181.6,32.0 C181.6,32.7 181.6,34.4 181.6,36.0 C181.6,37.6 181.4,40.9 181.3,41.9 " fill="none" stroke="#f8eee6" stroke-width="1.1" stroke-linecap="round"/><path d="M200.0,60.0 C200.7,59.3 202.7,57.3 204.0,56.0 C205.3,54.7 207.3,52.7 208.0,52.0 " fill="none" stroke="#f8eee6" stroke-width="0.8" stroke-linecap="round"/></g>
<g clip-path="url(#clip1)"><rect x="265" y="32" width="149" height="119" fill="#f4e6d6"/><g filter="url(#grain1)"><path d="M303.7,45.2 C308.5,43.6 312.5,39.3 316.9,37.5 C321.3,35.7 326.1,35.0 330.1,34.6 C334.2,34.2 336.8,34.6 341.2,35.3 C345.6,36.0 351.8,37.5 356.6,38.6 C361.4,39.7 365.8,39.7 369.8,41.9 C373.8,44.1 377.9,48.7 380.8,51.8 C383.8,54.9 384.9,57.8 387.5,60.7 C390.1,63.7 393.4,66.9 396.3,69.5 C399.2,72.1 402.7,73.9 405.1,76.1 C407.5,78.3 408.8,80.1 410.6,82.7 C412.4,85.3 415.1,83.0 416.0,91.5 C416.9,100.0 417.8,125.7 416.0,133.4 C414.2,141.1 409.5,136.5 405.1,137.8 C400.7,139.1 394.1,141.3 389.7,141.0 C385.3,140.7 382.2,136.5 378.6,136.0 C375.0,135.5 371.3,137.0 368.0,138.0 C364.7,139.0 362.2,140.4 358.8,142.2 C355.4,144.0 351.9,147.0 347.8,148.8 C343.8,150.6 340.0,152.3 334.5,153.0 C329.0,153.7 320.2,154.1 314.7,153.0 C309.2,151.9 305.9,148.8 301.5,146.6 C297.1,144.4 292.2,142.9 288.2,140.0 C284.1,137.1 280.3,133.0 277.2,129.0 C274.1,125.0 271.3,121.0 269.5,115.8 C267.7,110.6 266.6,104.0 266.2,98.1 C265.8,92.2 266.6,86.0 267.3,80.5 C268.0,75.0 269.0,69.4 270.6,65.0 C272.2,60.6 274.3,56.9 277.2,54.0 C280.1,51.1 283.8,48.9 288.2,47.4 C292.6,45.9 298.9,46.9 303.7,45.2 Z" fill="#a67ab4" stroke="#6f4a88" stroke-width="1.2"/><path d="M360.0,118.0 C361.7,113.7 374.2,111.0 380.0,110.0 C385.8,109.0 390.8,109.5 395.0,112.0 C399.2,114.5 404.2,120.8 405.0,125.0 C405.8,129.2 403.3,134.5 400.0,137.0 C396.7,139.5 390.0,140.2 385.0,140.0 C380.0,139.8 374.2,139.7 370.0,136.0 C365.8,132.3 358.3,122.3 360.0,118.0 Z" fill="#b283b9"/><ellipse cx="352" cy="45" rx="4" ry="4" fill="#a57aae" stroke="#5f3a7a" stroke-width="1.3"/><ellipse cx="361" cy="44" rx="5" ry="5" fill="#b08cbc" stroke="#5f3a7a" stroke-width="1.5"/><ellipse cx="370" cy="48" rx="4.5" ry="4.5" fill="#b08cbc" stroke="#5f3a7a" stroke-width="1.3"/><ellipse cx="358" cy="53" rx="5" ry="4" fill="#9c6aa8" stroke="#5f3a7a" stroke-width="1.3"/><ellipse cx="368" cy="56" rx="4" ry="3.5" fill="#9c6aa8" stroke="#5f3a7a" stroke-width="1.2"/></g><path d="M276.0,86.0 C276.7,84.5 279.0,84.3 280.0,85.0 C281.0,85.7 281.8,88.0 282.0,90.0 C282.2,92.0 281.7,95.5 281.0,97.0 C280.3,98.5 278.8,99.5 278.0,99.0 C277.2,98.5 276.3,96.2 276.0,94.0 C275.7,91.8 275.3,87.5 276.0,86.0 Z" fill="#f7eee4" stroke="#6f4a88" stroke-opacity="0.35" stroke-width="0.8"/><path d="M328.0,90.0 C328.8,89.3 330.2,89.7 330.5,91.0 C330.8,92.3 330.6,96.5 330.0,98.0 C329.4,99.5 327.7,100.5 327.0,100.0 C326.3,99.5 325.8,96.7 326.0,95.0 C326.2,93.3 327.2,90.7 328.0,90.0 Z" fill="#f7eee4" stroke="#6f4a88" stroke-opacity="0.35" stroke-width="0.8"/><path d="M315.0,110.0 C315.8,109.4 318.2,107.7 320.0,106.5 C321.8,105.3 324.3,104.1 326.0,103.0 C327.7,101.9 329.3,100.5 330.0,100.0 " fill="none" stroke="#f7eee4" stroke-width="1.6" stroke-linecap="round"/><path d="M379.0,106.0 C379.5,105.0 382.2,105.2 383.0,106.0 C383.8,106.8 384.5,110.0 384.0,111.0 C383.5,112.0 380.8,112.8 380.0,112.0 C379.2,111.2 378.5,107.0 379.0,106.0 Z" fill="#f7eee4" stroke="#6f4a88" stroke-opacity="0.35" stroke-width="0.8"/><path d="M385.0,112.0 C385.5,113.3 387.3,117.0 388.0,120.0 C388.7,123.0 388.7,127.0 389.0,130.0 C389.3,133.0 389.8,136.7 390.0,138.0 " fill="none" stroke="#f7eee4" stroke-width="0.8" stroke-linecap="round"/><path d="M360.0,138.0 C361.3,137.0 365.0,133.0 368.0,132.0 C371.0,131.0 376.3,132.0 378.0,132.0 " fill="none" stroke="#f7eee4" stroke-width="0.8" stroke-linecap="round"/><path d="M361.0,42.5 C361.3,42.1 362.7,42.1 363.0,42.5 C363.3,42.9 363.3,44.6 363.0,45.0 C362.7,45.4 361.3,45.4 361.0,45.0 C360.7,44.6 360.7,42.9 361.0,42.5 Z" fill="#f7eee4" stroke="#6f4a88" stroke-opacity="0.35" stroke-width="0.8"/><path d="M370.0,46.5 C370.3,46.1 371.7,46.1 372.0,46.5 C372.3,46.9 372.3,48.6 372.0,49.0 C371.7,49.4 370.3,49.4 370.0,49.0 C369.7,48.6 369.7,46.9 370.0,46.5 Z" fill="#f7eee4" stroke="#6f4a88" stroke-opacity="0.35" stroke-width="0.8"/></g>
<g clip-path="url(#clip2)"><rect x="425" y="32" width="147" height="119" fill="#f4ebe3"/><g filter="url(#grain2)"><path d="M429.6,90.0 C429.6,86.2 430.4,82.5 430.8,78.8 C431.2,75.0 431.1,70.7 431.9,67.5 C432.6,64.3 433.8,61.9 435.3,59.6 C436.8,57.4 438.6,55.4 440.9,54.0 C443.1,52.6 446.2,51.8 448.8,51.2 C451.4,50.6 454.2,50.8 456.6,50.6 C459.0,50.4 461.1,50.9 463.4,50.0 C465.7,49.1 468.1,46.5 470.5,45.5 C472.9,44.5 475.4,44.6 477.5,44.3 C479.6,44.0 481.8,43.4 483.4,43.8 C485.0,44.2 485.5,45.6 486.9,46.7 C488.2,47.8 490.1,50.8 491.5,50.2 C492.9,49.6 493.8,44.8 495.0,43.2 C496.2,41.6 497.5,40.6 498.5,40.8 C499.5,41.0 499.9,44.5 500.9,44.3 C501.9,44.1 503.4,39.3 504.4,39.7 C505.4,40.1 505.9,45.2 506.7,46.7 C507.5,48.2 507.6,48.2 509.0,49.0 C510.4,49.8 512.9,50.0 514.9,51.4 C516.9,52.8 519.0,55.3 520.7,57.2 C522.5,59.1 523.9,60.9 525.4,63.0 C526.9,65.1 528.8,67.7 530.0,70.0 C531.2,72.3 532.4,75.2 532.4,77.0 C532.4,78.8 531.6,79.7 530.0,80.5 C528.4,81.3 525.5,81.8 523.0,81.7 C520.5,81.6 517.9,80.2 514.9,80.0 C511.9,79.8 508.6,80.1 505.0,80.5 C501.4,80.9 496.5,81.9 493.0,82.5 C489.5,83.1 485.3,82.8 484.0,84.0 C482.7,85.2 483.2,88.6 485.0,90.0 C486.8,91.4 491.5,92.7 495.0,92.5 C498.5,92.3 501.4,89.8 506.0,89.0 C510.6,88.2 517.2,87.8 522.5,88.0 C527.8,88.2 534.6,88.0 537.9,90.0 C541.2,92.0 540.8,96.4 542.3,99.9 C543.8,103.4 545.1,106.8 546.6,110.8 C548.1,114.8 550.5,120.0 551.0,124.0 C551.5,128.0 551.4,132.0 549.9,134.9 C548.4,137.8 546.5,139.7 542.3,141.5 C538.1,143.3 529.8,144.8 524.7,145.9 C519.6,147.0 516.3,147.6 511.6,148.1 C506.9,148.6 501.4,149.6 496.3,149.2 C491.2,148.8 485.6,147.6 480.9,145.9 C476.1,144.2 471.1,142.2 467.8,139.3 C464.5,136.4 463.0,130.5 461.1,128.3 C459.2,126.1 458.9,126.9 456.6,126.0 C454.4,125.1 450.4,124.2 447.6,122.7 C444.8,121.2 442.1,119.1 439.8,117.0 C437.6,114.9 435.6,112.9 434.1,110.3 C432.6,107.7 431.6,104.7 430.8,101.3 C430.1,97.9 429.6,93.8 429.6,90.0 Z" fill="#b27aab" stroke="#7a4a82" stroke-width="1.2"/><path d="M550.0,79.0 C550.7,77.2 555.2,78.5 557.6,80.2 C560.0,81.9 562.2,85.6 564.2,88.9 C566.2,92.2 568.5,96.6 569.6,99.9 C570.7,103.2 571.2,105.9 570.7,108.6 C570.2,111.3 568.1,115.0 566.3,116.3 C564.5,117.6 561.6,117.2 559.8,116.3 C558.0,115.4 555.9,113.2 555.4,110.8 C554.9,108.4 556.9,105.3 556.5,102.0 C556.1,98.7 554.3,94.9 553.2,91.1 C552.1,87.3 549.3,80.8 550.0,79.0 Z" fill="#b27aab" stroke="#7a4a82" stroke-width="1.2"/><path d="M515.0,41.5 C515.9,39.9 518.9,40.2 520.7,40.5 C522.5,40.8 525.0,41.8 526.0,43.0 C527.0,44.2 527.3,46.5 526.5,48.0 C525.7,49.5 522.8,51.7 521.0,52.0 C519.2,52.3 516.5,51.8 515.5,50.0 C514.5,48.2 514.1,43.1 515.0,41.5 Z" fill="#b27aab" stroke="#7a4a82" stroke-width="1.2"/><path d="M462.0,110.0 C464.3,104.2 473.7,102.0 480.0,100.0 C486.3,98.0 493.3,97.2 500.0,98.0 C506.7,98.8 514.2,102.2 520.0,105.0 C525.8,107.8 530.8,110.8 535.0,115.0 C539.2,119.2 544.2,125.5 545.0,130.0 C545.8,134.5 544.2,139.3 540.0,142.0 C535.8,144.7 527.5,145.0 520.0,146.0 C512.5,147.0 502.0,148.5 495.0,148.0 C488.0,147.5 482.8,145.2 478.0,143.0 C473.2,140.8 468.7,140.5 466.0,135.0 C463.3,129.5 459.7,115.8 462.0,110.0 Z" fill="#aa76ad"/><path d="M478.0,50.0 C480.0,46.3 486.3,49.0 490.0,48.0 C493.7,47.0 496.7,43.7 500.0,44.0 C503.3,44.3 506.7,47.7 510.0,50.0 C513.3,52.3 517.0,55.0 520.0,58.0 C523.0,61.0 526.3,64.7 528.0,68.0 C529.7,71.3 532.2,76.0 530.0,78.0 C527.8,80.0 520.0,79.7 515.0,80.0 C510.0,80.3 504.8,80.0 500.0,80.0 C495.2,80.0 489.7,81.7 486.0,80.0 C482.3,78.3 479.3,75.0 478.0,70.0 C476.7,65.0 476.0,53.7 478.0,50.0 Z" fill="#bd8fba"/><ellipse cx="496.3" cy="71.4" rx="5" ry="5" fill="#8f5795" stroke="#66336f" stroke-width="1.5"/><ellipse cx="453.3" cy="56.3" rx="4.5" ry="2.5" fill="#b58ab6" stroke="#6f3f7a" stroke-width="1.0" transform="rotate(-10 453.3 56.3)"/><ellipse cx="457.4" cy="66.4" rx="5.5" ry="6" fill="#b887b5" stroke="#6f3f7a" stroke-width="1.4" transform="rotate(10 457.4 66.4)"/><ellipse cx="527" cy="130" rx="9" ry="9" fill="#b585b3" stroke="#7a4a88" stroke-width="1.2"/><ellipse cx="565" cy="108" rx="4" ry="4" fill="#93609a"/></g><path d="M454.5,62.5 C455.3,61.2 458.4,61.3 459.5,62.0 C460.6,62.7 461.2,65.0 461.0,66.5 C460.8,68.0 459.6,70.4 458.5,70.9 C457.4,71.4 455.2,70.9 454.5,69.5 C453.8,68.1 453.7,63.8 454.5,62.5 Z" fill="#f7f2ec" stroke="#7a4a82" stroke-opacity="0.35" stroke-width="0.8"/><path d="M449.0,102.0 C450.1,100.9 453.4,100.6 455.0,101.3 C456.6,102.0 458.6,103.8 458.9,106.0 C459.2,108.2 458.5,113.5 457.0,114.8 C455.5,116.1 451.5,115.1 450.0,114.0 C448.5,112.9 448.4,110.0 448.2,108.0 C448.0,106.0 447.9,103.1 449.0,102.0 Z" fill="#f7f2ec" stroke="#7a4a82" stroke-opacity="0.35" stroke-width="0.8"/><path d="M437.0,102.4 C437.7,101.6 440.2,102.1 441.0,103.0 C441.8,103.9 442.2,106.6 442.0,108.0 C441.8,109.4 440.8,111.4 440.0,111.4 C439.2,111.4 437.5,109.5 437.0,108.0 C436.5,106.5 436.3,103.2 437.0,102.4 Z" fill="#f7f2ec" stroke="#7a4a82" stroke-opacity="0.35" stroke-width="0.8"/><path d="M439.0,90.5 C439.7,89.8 443.8,89.6 445.0,90.0 C446.2,90.4 447.2,92.2 446.5,93.0 C445.8,93.8 442.2,94.9 441.0,94.5 C439.8,94.1 438.3,91.2 439.0,90.5 Z" fill="#f7f2ec" stroke="#7a4a82" stroke-opacity="0.35" stroke-width="0.8"/><path d="M462.0,90.5 C462.7,90.2 465.4,90.7 467.0,91.5 C468.6,92.3 471.1,94.6 471.3,95.5 C471.5,96.4 469.4,97.1 468.0,96.8 C466.6,96.5 464.0,94.5 463.0,93.5 C462.0,92.5 461.3,90.8 462.0,90.5 Z" fill="#f7f2ec" stroke="#7a4a82" stroke-opacity="0.35" stroke-width="0.8"/><path d="M483.7,95.7 C482.4,96.9 478.4,100.6 476.0,103.0 C473.6,105.4 471.3,107.7 469.0,110.0 C466.7,112.3 463.4,115.8 462.3,117.0 " fill="none" stroke="#f7f2ec" stroke-width="1.6" stroke-linecap="round"/><path d="M435.5,71.0 C435.9,70.5 437.6,70.5 438.0,71.0 C438.4,71.5 438.4,73.5 438.0,74.0 C437.6,74.5 435.9,74.5 435.5,74.0 C435.1,73.5 435.1,71.5 435.5,71.0 Z" fill="#f7f2ec" stroke="#7a4a82" stroke-opacity="0.35" stroke-width="0.8"/><path d="M446.5,77.5 C446.9,77.0 448.6,77.0 449.0,77.5 C449.4,78.0 449.4,80.0 449.0,80.5 C448.6,81.0 446.9,81.0 446.5,80.5 C446.1,80.0 446.1,78.0 446.5,77.5 Z" fill="#f7f2ec" stroke="#7a4a82" stroke-opacity="0.35" stroke-width="0.8"/><path d="M450.0,88.5 C450.4,88.1 452.1,88.1 452.5,88.5 C452.9,88.9 452.9,90.6 452.5,91.0 C452.1,91.4 450.4,91.4 450.0,91.0 C449.6,90.6 449.6,88.9 450.0,88.5 Z" fill="#f7f2ec" stroke="#7a4a82" stroke-opacity="0.35" stroke-width="0.8"/><path d="M484.0,60.0 C484.5,59.5 486.5,59.5 487.0,60.0 C487.5,60.5 487.5,62.5 487.0,63.0 C486.5,63.5 484.5,63.5 484.0,63.0 C483.5,62.5 483.5,60.5 484.0,60.0 Z" fill="#f7f2ec" stroke="#7a4a82" stroke-opacity="0.35" stroke-width="0.8"/><path d="M507.0,64.0 C507.5,63.5 509.5,63.5 510.0,64.0 C510.5,64.5 510.5,66.5 510.0,67.0 C509.5,67.5 507.5,67.5 507.0,67.0 C506.5,66.5 506.5,64.5 507.0,64.0 Z" fill="#f7f2ec" stroke="#7a4a82" stroke-opacity="0.35" stroke-width="0.8"/><path d="M516.0,66.0 C516.5,65.5 518.5,65.5 519.0,66.0 C519.5,66.5 519.5,68.5 519.0,69.0 C518.5,69.5 516.5,69.5 516.0,69.0 C515.5,68.5 515.5,66.5 516.0,66.0 Z" fill="#f7f2ec" stroke="#7a4a82" stroke-opacity="0.35" stroke-width="0.8"/><path d="M470.0,68.0 C470.5,67.5 472.5,67.5 473.0,68.0 C473.5,68.5 473.5,70.5 473.0,71.0 C472.5,71.5 470.5,71.5 470.0,71.0 C469.5,70.5 469.5,68.5 470.0,68.0 Z" fill="#f7f2ec" stroke="#7a4a82" stroke-opacity="0.35" stroke-width="0.8"/><path d="M524.0,105.0 C524.7,104.3 527.3,104.3 528.0,105.0 C528.7,105.7 528.7,108.3 528.0,109.0 C527.3,109.7 524.7,109.7 524.0,109.0 C523.3,108.3 523.3,105.7 524.0,105.0 Z" fill="#f7f2ec" stroke="#7a4a82" stroke-opacity="0.35" stroke-width="0.8"/><path d="M500.0,55.0 C500.5,56.2 502.0,59.5 503.0,62.0 C504.0,64.5 505.5,68.7 506.0,70.0 " fill="none" stroke="#f7f2ec" stroke-width="0.9" stroke-linecap="round"/><path d="M493.0,50.0 C493.3,51.0 494.3,54.0 495.0,56.0 C495.7,58.0 496.7,61.0 497.0,62.0 " fill="none" stroke="#f7f2ec" stroke-width="0.9" stroke-linecap="round"/><path d="M512.0,55.0 C512.7,56.2 514.7,59.5 516.0,62.0 C517.3,64.5 519.3,68.7 520.0,70.0 " fill="none" stroke="#f7f2ec" stroke-width="0.9" stroke-linecap="round"/><path d="M519.0,72.0 C519.7,71.4 522.3,71.4 523.0,72.0 C523.7,72.6 523.7,74.9 523.0,75.5 C522.3,76.1 519.7,76.1 519.0,75.5 C518.3,74.9 518.3,72.6 519.0,72.0 Z" fill="#f7f2ec" stroke="#7a4a82" stroke-opacity="0.35" stroke-width="0.8"/><path d="M503.0,73.0 C503.5,72.5 505.5,72.5 506.0,73.0 C506.5,73.5 506.5,75.5 506.0,76.0 C505.5,76.5 503.5,76.5 503.0,76.0 C502.5,75.5 502.5,73.5 503.0,73.0 Z" fill="#f7f2ec" stroke="#7a4a82" stroke-opacity="0.35" stroke-width="0.8"/><path d="M478.0,58.0 C478.5,57.5 480.5,57.5 481.0,58.0 C481.5,58.5 481.5,60.5 481.0,61.0 C480.5,61.5 478.5,61.5 478.0,61.0 C477.5,60.5 477.5,58.5 478.0,58.0 Z" fill="#f7f2ec" stroke="#7a4a82" stroke-opacity="0.35" stroke-width="0.8"/><path d="M492.0,65.0 C492.5,64.5 494.5,64.5 495.0,65.0 C495.5,65.5 495.5,67.5 495.0,68.0 C494.5,68.5 492.5,68.5 492.0,68.0 C491.5,67.5 491.5,65.5 492.0,65.0 Z" fill="#f7f2ec" stroke="#7a4a82" stroke-opacity="0.35" stroke-width="0.8"/><path d="M526.0,90.0 C527.0,91.0 530.3,93.7 532.0,96.0 C533.7,98.3 535.3,102.7 536.0,104.0 " fill="none" stroke="#f7f2ec" stroke-width="0.9" stroke-linecap="round"/><path d="M478.0,75.0 C479.0,75.5 482.0,77.3 484.0,78.0 C486.0,78.7 489.0,78.8 490.0,79.0 " fill="none" stroke="#f7f2ec" stroke-width="0.9" stroke-linecap="round"/><path d="M488.0,52.0 C488.2,53.3 488.7,57.3 489.0,60.0 C489.3,62.7 489.8,66.7 490.0,68.0 " fill="none" stroke="#f7f2ec" stroke-width="0.8" stroke-linecap="round"/><path d="M512.0,95.0 C513.3,95.8 517.0,98.5 520.0,100.0 C523.0,101.5 528.3,103.3 530.0,104.0 " fill="none" stroke="#f7f2ec" stroke-width="0.8" stroke-linecap="round"/><path d="M500.0,112.0 C501.7,113.3 507.5,117.0 510.0,120.0 C512.5,123.0 514.2,128.3 515.0,130.0 " fill="none" stroke="#f7f2ec" stroke-width="0.8" stroke-linecap="round"/></g>
<g clip-path="url(#clip3)"><rect x="100" y="173" width="148" height="119" fill="#f8e6c8"/><g filter="url(#grain3)"><path d="M137.2,180.8 C139.4,179.4 140.9,177.6 143.8,176.4 C146.7,175.2 151.0,174.1 154.7,173.6 C158.3,173.1 162.0,173.1 165.7,173.6 C169.3,174.1 172.9,175.2 176.6,176.4 C180.2,177.6 183.9,179.0 187.6,180.8 C191.2,182.6 195.2,185.1 198.5,187.3 C201.8,189.5 204.7,191.7 207.3,193.9 C209.9,196.1 211.4,198.3 213.9,200.5 C216.4,202.7 219.7,205.0 222.6,207.0 C225.5,209.0 228.5,210.2 231.4,212.5 C234.3,214.8 237.6,217.7 240.1,220.5 C242.6,223.3 245.2,225.6 246.7,229.3 C248.2,233.0 248.8,238.1 249.0,242.5 C249.2,246.9 248.6,251.8 247.8,255.8 C247.1,259.9 246.5,263.9 244.5,266.8 C242.5,269.7 239.4,272.3 235.7,273.4 C232.0,274.5 225.8,274.0 222.5,273.4 C219.2,272.8 218.8,269.6 215.8,270.0 C212.9,270.4 208.1,273.6 204.8,275.6 C201.5,277.6 199.7,280.0 196.0,282.2 C192.3,284.4 187.2,286.8 182.8,288.8 C178.4,290.8 173.9,293.1 169.5,294.0 C165.1,294.9 160.7,295.2 156.3,294.0 C151.9,292.8 147.9,288.9 143.1,286.6 C138.3,284.3 132.1,282.6 127.7,280.0 C123.3,277.4 119.9,274.5 116.6,271.2 C113.3,267.9 110.2,264.6 107.8,260.2 C105.4,255.8 103.4,250.3 102.3,244.8 C101.2,239.3 101.2,232.2 101.2,227.1 C101.2,222.0 102.0,217.3 102.5,214.0 C103.0,210.7 103.0,209.6 104.4,207.0 C105.8,204.4 108.5,201.0 111.0,198.3 C113.5,195.6 116.4,192.8 119.7,190.6 C123.0,188.4 127.8,186.7 130.7,185.1 C133.6,183.5 135.0,182.2 137.2,180.8 Z" fill="#ad74a3" stroke="#6e3f72" stroke-width="1.2"/><ellipse cx="196" cy="196.3" rx="7" ry="7" fill="#b386ad" stroke="#6f3f74" stroke-width="1.6"/><path d="M140.0,180.0 C145.0,176.3 157.5,175.7 165.0,176.0 C172.5,176.3 180.8,178.0 185.0,182.0 C189.2,186.0 191.7,195.0 190.0,200.0 C188.3,205.0 181.7,210.3 175.0,212.0 C168.3,213.7 156.7,212.3 150.0,210.0 C143.3,207.7 136.7,203.0 135.0,198.0 C133.3,193.0 135.0,183.7 140.0,180.0 Z" fill="#b0739f"/></g><path d="M157.0,236.0 C157.7,234.0 160.5,232.7 162.0,233.0 C163.5,233.3 165.5,236.2 166.0,238.0 C166.5,239.8 166.3,242.8 165.0,244.0 C163.7,245.2 159.3,246.3 158.0,245.0 C156.7,243.7 156.3,238.0 157.0,236.0 Z" fill="#faeedb" stroke="#6e3f72" stroke-opacity="0.35" stroke-width="0.8"/><path d="M185.0,227.0 C185.8,226.6 188.0,225.3 190.0,224.5 C192.0,223.7 195.8,222.4 197.0,222.0 " fill="none" stroke="#faeedb" stroke-width="1.8" stroke-linecap="round"/><path d="M108.5,229.0 C109.0,228.5 111.0,228.5 111.5,229.0 C112.0,229.5 112.0,231.5 111.5,232.0 C111.0,232.5 109.0,232.5 108.5,232.0 C108.0,231.5 108.0,229.5 108.5,229.0 Z" fill="#faeedb" stroke="#6e3f72" stroke-opacity="0.35" stroke-width="0.8"/><path d="M160.0,245.0 C158.3,246.2 152.5,249.2 150.0,252.0 C147.5,254.8 145.8,260.3 145.0,262.0 " fill="none" stroke="#faeedb" stroke-width="0.8" stroke-linecap="round"/><path d="M185.0,255.0 C185.8,256.2 188.7,259.5 190.0,262.0 C191.3,264.5 192.5,268.7 193.0,270.0 " fill="none" stroke="#faeedb" stroke-width="0.8" stroke-linecap="round"/></g>
<g clip-path="url(#clip4)"><rect x="265" y="173" width="149" height="119" fill="#f6ede3"/><g filter="url(#grain4)"><path d="M258.0,166.0 C285.0,147.3 393.0,154.0 420.0,166.0 C447.0,178.0 421.1,224.2 420.0,238.0 C418.9,251.8 414.8,245.6 413.3,248.9 C411.8,252.2 412.3,255.1 411.0,257.9 C409.7,260.7 408.2,263.1 405.4,265.7 C402.6,268.3 397.6,271.4 394.2,273.6 C390.8,275.9 388.4,277.5 385.2,279.2 C382.0,280.9 378.3,282.4 375.1,283.7 C371.9,285.0 369.5,286.2 366.1,287.1 C362.7,288.0 358.6,288.9 354.9,289.3 C351.1,289.7 347.8,289.2 343.6,289.3 C339.5,289.4 334.8,289.6 330.0,290.0 C325.2,290.4 319.5,291.6 315.0,292.0 C310.5,292.4 305.9,293.2 303.0,292.5 C300.1,291.8 299.1,289.2 297.3,287.5 C295.5,285.8 294.1,283.4 292.0,282.0 C289.9,280.6 287.8,279.6 285.0,279.0 C282.2,278.4 279.5,278.8 275.0,278.6 C270.5,278.4 260.8,296.8 258.0,278.0 C255.2,259.2 231.0,184.7 258.0,166.0 Z" fill="#cc92b8" stroke="#9a5a8a" stroke-width="1.2"/><ellipse cx="399.8" cy="182.1" rx="6.7" ry="6.7" fill="#cf9cbd" stroke="#8a4a86" stroke-width="1.8"/><ellipse cx="390.3" cy="197.9" rx="5.5" ry="5.5" fill="#c995bb" stroke="#84467e" stroke-width="1.8"/><ellipse cx="404.9" cy="197.9" rx="5.5" ry="5.5" fill="#c995bb" stroke="#84467e" stroke-width="1.8"/><ellipse cx="397" cy="208" rx="4" ry="3.5" fill="#c995bb" stroke="#84467e" stroke-width="1.3"/><ellipse cx="383.5" cy="183.2" rx="3.5" ry="3.5" fill="#c995bb" stroke="#84467e" stroke-width="1.1"/><ellipse cx="357.1" cy="178.7" rx="5" ry="5" fill="#c08ab4" stroke="#84467e" stroke-width="1.2"/><ellipse cx="345" cy="222" rx="6" ry="6" fill="#a76aa8"/><ellipse cx="396.5" cy="228.5" rx="6" ry="5" fill="#c08ab4" stroke="#84467e" stroke-width="1.5"/><ellipse cx="366.1" cy="266" rx="15.5" ry="19" fill="#d8a6c0" stroke="#9a5a94" stroke-width="2.0"/><ellipse cx="294.6" cy="264.7" rx="9.5" ry="14" fill="#d29ab9" stroke="#8a4a86" stroke-width="2.0"/><ellipse cx="324" cy="265.3" rx="10" ry="10" fill="#d6a0bf" stroke="#8a4a86" stroke-width="1.2"/><ellipse cx="314" cy="270.8" rx="4" ry="4" fill="#c991b7" stroke="#8a4a86" stroke-width="1.2"/><ellipse cx="386.3" cy="273.6" rx="3.5" ry="3.5" fill="#c991b7" stroke="#8a4a86" stroke-width="1.0"/><ellipse cx="276" cy="181" rx="14" ry="12" fill="#c27fb0"/></g><path d="M262.0,170.0 C265.7,166.8 280.7,169.0 284.0,170.0 C287.3,171.0 283.2,174.0 282.0,176.0 C280.8,178.0 278.7,180.3 277.0,182.0 C275.3,183.7 273.6,185.0 272.0,186.0 C270.4,187.0 269.0,187.5 267.3,188.0 C265.6,188.5 262.9,192.0 262.0,189.0 C261.1,186.0 258.3,173.2 262.0,170.0 Z" fill="#f9f3ec" stroke="#9a5a8a" stroke-opacity="0.35" stroke-width="0.8"/><path d="M308.4,170.0 C311.0,167.8 317.3,167.8 319.5,170.0 C321.7,172.2 322.2,179.0 321.7,183.0 C321.2,187.0 316.3,191.3 316.5,194.0 C316.7,196.7 320.7,197.8 322.8,199.0 C324.9,200.2 328.0,199.7 329.0,201.0 C330.0,202.3 329.8,205.5 329.0,207.0 C328.2,208.5 325.0,207.5 324.0,210.0 C323.0,212.5 324.1,218.7 322.8,222.0 C321.5,225.3 318.6,228.2 316.0,230.0 C313.4,231.8 310.0,231.7 307.3,233.0 C304.6,234.3 302.6,236.2 300.0,238.0 C297.4,239.8 294.1,241.7 292.0,244.0 C289.9,246.3 288.6,249.0 287.5,252.0 C286.4,255.0 285.9,258.7 285.6,262.0 C285.3,265.3 284.9,269.2 285.6,272.0 C286.3,274.8 288.1,277.0 290.0,279.0 C291.9,281.0 295.6,281.3 297.3,284.0 C299.0,286.7 305.9,293.2 300.0,295.0 C294.1,296.8 268.3,297.3 262.0,295.0 C255.7,292.7 260.7,283.6 262.0,281.0 C263.3,278.4 268.2,280.7 270.0,279.5 C271.8,278.3 272.1,276.4 273.0,274.0 C273.9,271.6 274.4,268.6 275.1,265.3 C275.8,262.0 276.0,257.9 277.3,254.2 C278.6,250.5 280.5,246.8 282.9,243.1 C285.3,239.4 289.3,235.5 291.7,232.0 C294.1,228.5 295.8,225.3 297.3,222.0 C298.9,218.7 299.9,215.2 301.0,212.0 C302.1,208.8 303.2,206.0 304.0,203.0 C304.8,200.0 306.0,197.3 306.0,194.0 C306.0,190.7 303.6,187.0 304.0,183.0 C304.4,179.0 305.8,172.2 308.4,170.0 Z" fill="#f9f3ec" stroke="#9a5a8a" stroke-opacity="0.35" stroke-width="0.8"/><path d="M275.1,210.0 C276.6,209.2 281.2,207.0 284.0,205.5 C286.8,204.0 289.2,202.3 292.0,201.0 C294.8,199.7 299.2,198.1 300.6,197.5 " fill="none" stroke="#f9f3ec" stroke-width="4.2" stroke-linecap="round"/><path d="M333.0,209.0 C333.8,207.8 337.6,207.9 339.0,208.6 C340.4,209.3 341.6,211.3 341.5,213.0 C341.4,214.7 339.8,218.1 338.5,218.6 C337.2,219.1 334.9,217.6 334.0,216.0 C333.1,214.4 332.2,210.2 333.0,209.0 Z" fill="#f9f3ec" stroke="#9a5a8a" stroke-opacity="0.35" stroke-width="0.8"/><path d="M290.0,255.0 C291.4,253.7 296.1,253.0 298.0,254.2 C299.9,255.4 301.2,259.0 301.7,262.0 C302.2,265.0 301.9,269.6 301.0,272.0 C300.1,274.4 297.8,276.4 296.0,276.4 C294.2,276.4 291.6,274.4 290.5,272.0 C289.4,269.6 289.6,264.8 289.5,262.0 C289.4,259.2 288.6,256.3 290.0,255.0 Z" fill="#f9f3ec" stroke="#9a5a8a" stroke-opacity="0.35" stroke-width="0.8"/><path d="M365.0,255.0 C365.7,253.8 368.3,253.3 370.0,254.5 C371.7,255.7 374.1,259.1 375.0,262.0 C375.9,264.9 375.8,268.9 375.1,272.0 C374.4,275.1 372.5,279.1 371.0,280.3 C369.5,281.5 366.5,280.7 366.0,279.0 C365.5,277.3 368.0,272.8 368.0,270.0 C368.0,267.2 366.5,264.5 366.0,262.0 C365.5,259.5 364.3,256.2 365.0,255.0 Z" fill="#f9f3ec" stroke="#9a5a8a" stroke-opacity="0.35" stroke-width="0.8"/><path d="M388.5,196.0 C389.1,195.4 391.4,195.4 392.0,196.0 C392.6,196.6 392.6,199.2 392.0,199.8 C391.4,200.4 389.1,200.4 388.5,199.8 C387.9,199.2 387.9,196.6 388.5,196.0 Z" fill="#f9f3ec" stroke="#9a5a8a" stroke-opacity="0.35" stroke-width="0.8"/><path d="M403.0,196.0 C403.6,195.4 406.2,195.4 406.8,196.0 C407.4,196.6 407.4,199.2 406.8,199.8 C406.2,200.4 403.6,200.4 403.0,199.8 C402.4,199.2 402.4,196.6 403.0,196.0 Z" fill="#f9f3ec" stroke="#9a5a8a" stroke-opacity="0.35" stroke-width="0.8"/><path d="M385.2,170.0 C386.1,168.3 391.2,168.3 392.0,170.0 C392.8,171.7 390.7,177.2 390.0,180.0 C389.3,182.8 388.6,186.6 388.0,186.6 C387.4,186.6 387.0,182.8 386.5,180.0 C386.0,177.2 384.3,171.7 385.2,170.0 Z" fill="#f9f3ec" stroke="#9a5a8a" stroke-opacity="0.35" stroke-width="0.8"/><path d="M371.7,210.0 C372.8,209.7 375.8,208.5 378.0,208.0 C380.2,207.5 384.0,207.0 385.2,206.8 " fill="none" stroke="#f9f3ec" stroke-width="2.2" stroke-linecap="round"/><path d="M380.7,235.0 C381.9,234.1 387.4,233.4 388.6,234.2 C389.8,234.9 389.2,238.6 388.0,239.5 C386.8,240.4 382.7,240.7 381.5,239.9 C380.3,239.2 379.5,235.9 380.7,235.0 Z" fill="#f9f3ec" stroke="#9a5a8a" stroke-opacity="0.35" stroke-width="0.8"/><path d="M402.0,232.0 C402.7,231.0 405.9,230.9 406.6,232.0 C407.3,233.1 406.7,237.7 406.0,238.7 C405.3,239.7 403.2,239.1 402.5,238.0 C401.8,236.9 401.3,233.0 402.0,232.0 Z" fill="#f9f3ec" stroke="#9a5a8a" stroke-opacity="0.35" stroke-width="0.8"/><path d="M407.5,253.3 C407.9,252.9 409.6,252.9 410.0,253.3 C410.4,253.7 410.4,255.4 410.0,255.8 C409.6,256.2 407.9,256.2 407.5,255.8 C407.1,255.4 407.1,253.7 407.5,253.3 Z" fill="#f9f3ec" stroke="#9a5a8a" stroke-opacity="0.35" stroke-width="0.8"/><path d="M326.0,280.0 C327.0,278.7 331.8,278.5 333.0,279.7 C334.2,280.9 334.0,285.7 333.0,287.0 C332.0,288.3 328.2,288.7 327.0,287.5 C325.8,286.3 325.0,281.3 326.0,280.0 Z" fill="#f9f3ec" stroke="#9a5a8a" stroke-opacity="0.35" stroke-width="0.8"/><path d="M312.8,269.6 C313.2,269.2 314.8,269.2 315.2,269.6 C315.6,270.0 315.6,271.6 315.2,272.0 C314.8,272.4 313.2,272.4 312.8,272.0 C312.4,271.6 312.4,270.0 312.8,269.6 Z" fill="#f9f3ec" stroke="#9a5a8a" stroke-opacity="0.35" stroke-width="0.8"/><path d="M307.0,242.0 C307.5,241.6 309.5,241.6 310.0,242.0 C310.5,242.4 310.5,244.1 310.0,244.5 C309.5,244.9 307.5,244.9 307.0,244.5 C306.5,244.1 306.5,242.4 307.0,242.0 Z" fill="#f9f3ec" stroke="#9a5a8a" stroke-opacity="0.35" stroke-width="0.8"/><path d="M320.5,246.3 C320.9,245.9 322.6,245.9 323.0,246.3 C323.4,246.7 323.4,248.4 323.0,248.8 C322.6,249.2 320.9,249.2 320.5,248.8 C320.1,248.4 320.1,246.7 320.5,246.3 Z" fill="#f9f3ec" stroke="#9a5a8a" stroke-opacity="0.35" stroke-width="0.8"/><path d="M332.8,243.0 C333.5,242.1 336.6,242.3 337.3,243.5 C338.0,244.7 337.7,249.1 337.0,250.0 C336.3,250.9 333.7,250.2 333.0,249.0 C332.3,247.8 332.1,243.9 332.8,243.0 Z" fill="#f9f3ec" stroke="#9a5a8a" stroke-opacity="0.35" stroke-width="0.8"/><path d="M393.5,226.0 C394.4,225.2 398.6,225.2 399.5,226.0 C400.4,226.8 399.9,230.2 399.0,231.0 C398.1,231.8 394.9,231.8 394.0,231.0 C393.1,230.2 392.6,226.8 393.5,226.0 Z" fill="#f9f3ec" stroke="#9a5a8a" stroke-opacity="0.35" stroke-width="0.8"/><path d="M342.5,227.0 C343.5,226.0 348.5,225.2 350.0,226.0 C351.5,226.8 352.5,231.0 351.5,232.0 C350.5,233.0 345.5,232.8 344.0,232.0 C342.5,231.2 341.5,228.0 342.5,227.0 Z" fill="#f9f3ec" stroke="#9a5a8a" stroke-opacity="0.35" stroke-width="0.8"/><path d="M346.0,278.0 C346.5,277.5 348.5,277.5 349.0,278.0 C349.5,278.5 349.5,280.5 349.0,281.0 C348.5,281.5 346.5,281.5 346.0,281.0 C345.5,280.5 345.5,278.5 346.0,278.0 Z" fill="#f9f3ec" stroke="#9a5a8a" stroke-opacity="0.35" stroke-width="0.8"/></g>
<g clip-path="url(#clip5)"><rect x="425" y="173" width="147" height="119" fill="#f5eae4"/><g filter="url(#grain5)"><path d="M420.0,199.0 C421.4,183.1 426.2,195.9 428.4,194.2 C430.5,192.5 431.2,190.4 432.9,188.6 C434.6,186.8 436.2,184.9 438.4,183.1 C440.6,181.2 443.4,179.0 446.2,177.5 C449.0,176.0 451.8,175.3 455.1,174.2 C458.4,173.1 457.2,171.5 466.2,171.0 C475.2,170.5 500.7,170.1 509.0,171.0 C517.3,171.9 513.8,174.6 515.8,176.4 C517.8,178.2 519.1,180.9 521.3,182.0 C523.5,183.1 526.5,183.0 529.1,183.1 C531.7,183.2 534.2,182.1 536.8,182.5 C539.4,182.9 542.2,183.9 544.6,185.3 C547.0,186.7 549.3,188.9 551.3,190.9 C553.3,192.9 554.8,195.7 556.8,197.5 C558.8,199.3 561.6,200.2 563.5,202.0 C565.4,203.8 566.6,206.2 567.9,208.6 C569.2,211.0 570.1,213.2 571.3,216.4 C572.5,219.6 574.4,223.1 575.0,228.0 C575.6,232.9 576.0,241.3 575.0,246.0 C574.0,250.7 570.7,253.7 569.0,256.4 C567.3,259.1 565.7,260.0 564.6,262.0 C563.5,264.0 563.0,266.2 562.4,268.6 C561.8,271.0 562.2,274.2 561.3,276.4 C560.4,278.6 558.6,280.1 556.8,282.0 C554.9,283.9 552.6,286.0 550.2,287.5 C547.8,289.0 544.6,289.6 542.4,290.8 C540.2,292.1 548.9,294.1 536.8,295.0 C524.7,295.9 482.7,296.7 470.0,296.0 C457.3,295.3 463.7,292.0 460.6,290.8 C457.6,289.6 455.9,289.1 451.7,288.6 C447.4,288.1 440.4,287.8 435.1,288.0 C429.8,288.2 422.5,304.5 420.0,289.7 C417.5,274.9 418.6,214.9 420.0,199.0 Z" fill="#a675b4" stroke="#6a3f80" stroke-width="1.2"/><path d="M426.0,200.0 C425.5,197.0 429.7,193.0 432.0,190.0 C434.3,187.0 437.0,184.3 440.0,182.0 C443.0,179.7 445.8,177.3 450.0,176.0 C454.2,174.7 461.7,172.5 465.0,174.0 C468.3,175.5 469.0,180.7 470.0,185.0 C471.0,189.3 471.7,196.3 471.0,200.0 C470.3,203.7 469.5,205.7 466.0,207.0 C462.5,208.3 455.2,207.8 450.0,208.0 C444.8,208.2 439.0,209.3 435.0,208.0 C431.0,206.7 426.5,203.0 426.0,200.0 Z" fill="#c598bd"/><ellipse cx="537" cy="204" rx="12" ry="17" fill="#b07db5"/><ellipse cx="468.4" cy="203.1" rx="6" ry="6" fill="#8c5494" stroke="#6a3474" stroke-width="1.5"/><ellipse cx="474" cy="210.8" rx="5" ry="5" fill="#8c5494" stroke="#6a3474" stroke-width="1.4"/><ellipse cx="449.5" cy="216.4" rx="5" ry="5" fill="#8c5494" stroke="#6a3474" stroke-width="1.4"/><ellipse cx="438.4" cy="218.6" rx="5" ry="5" fill="#8c5494" stroke="#6a3474" stroke-width="1.4"/><ellipse cx="427.3" cy="212" rx="5" ry="5" fill="#8c5494" stroke="#6a3474" stroke-width="1.4"/><ellipse cx="490.6" cy="203.1" rx="9" ry="9" fill="#8f5496" stroke="#6a3474" stroke-width="1.6"/><ellipse cx="487.3" cy="180.9" rx="4" ry="4" fill="#93609a" stroke="#6a3474" stroke-width="1.2"/><ellipse cx="491.7" cy="179.8" rx="4" ry="4" fill="#93609a" stroke="#6a3474" stroke-width="1.2"/><ellipse cx="490.6" cy="186.4" rx="4" ry="4" fill="#93609a" stroke="#6a3474" stroke-width="1.2"/><ellipse cx="504.7" cy="178.7" rx="5" ry="5" fill="#a06aa6" stroke="#6a3474" stroke-width="1.3"/><ellipse cx="513.5" cy="184.2" rx="5" ry="5" fill="#a06aa6" stroke="#6a3474" stroke-width="1.3"/><ellipse cx="510.2" cy="196.4" rx="6" ry="6" fill="#8c5494" stroke="#6a3474" stroke-width="1.5"/><ellipse cx="512.4" cy="210.8" rx="8" ry="8" fill="#8c5494" stroke="#6a3474" stroke-width="1.6"/><ellipse cx="519.1" cy="223" rx="8" ry="8" fill="#8c5494" stroke="#6a3474" stroke-width="1.6"/><ellipse cx="557.9" cy="209.7" rx="8" ry="8" fill="#9a5e9e" stroke="#6a3474" stroke-width="1.6"/><ellipse cx="560" cy="229" rx="11" ry="8" fill="#a0609e" stroke="#6a3474" stroke-width="1.8"/><ellipse cx="564.6" cy="245.3" rx="5" ry="5" fill="#a06aa6" stroke="#6a3474" stroke-width="1.3"/><ellipse cx="436.2" cy="275.3" rx="5" ry="5" fill="#a371ac" stroke="#6a3474" stroke-width="1.3"/><ellipse cx="450.6" cy="279.7" rx="6" ry="6" fill="#a371ac" stroke="#6a3474" stroke-width="1.3"/><ellipse cx="491" cy="280" rx="14" ry="14" fill="#d0a2bd" stroke="#8a5a94" stroke-width="1.8"/><ellipse cx="546.3" cy="268" rx="16" ry="17" fill="#d2a0bc" stroke="#8a5a94" stroke-width="2.0"/></g><path d="M426.2,207.5 C427.3,207.5 430.6,207.2 433.0,207.3 C435.4,207.4 439.3,208.0 440.6,208.2 " fill="none" stroke="#f8f1ed" stroke-width="2.2" stroke-linecap="round"/><path d="M469.5,181.0 C469.6,182.5 469.8,187.1 470.0,190.0 C470.2,192.9 470.4,197.2 470.5,198.6 " fill="none" stroke="#f8f1ed" stroke-width="2.0" stroke-linecap="round"/><path d="M461.0,220.0 C462.7,219.1 467.8,219.4 472.0,219.7 C476.2,220.0 484.2,220.7 486.2,222.0 C488.2,223.3 486.7,226.8 484.0,227.5 C481.3,228.2 473.7,226.4 470.0,226.0 C466.3,225.6 463.5,226.0 462.0,225.0 C460.5,224.0 459.3,220.9 461.0,220.0 Z" fill="#f8f1ed" stroke="#6a3f80" stroke-opacity="0.35" stroke-width="0.8"/><path d="M558.0,206.5 C558.6,205.5 561.7,205.3 562.4,206.4 C563.1,207.5 562.6,212.0 562.0,213.0 C561.4,214.0 559.2,213.6 558.5,212.5 C557.8,211.4 557.4,207.5 558.0,206.5 Z" fill="#f8f1ed" stroke="#6a3f80" stroke-opacity="0.35" stroke-width="0.8"/><path d="M530.0,219.0 C531.3,219.5 535.0,221.2 538.0,222.0 C541.0,222.8 546.3,223.7 548.0,224.0 " fill="none" stroke="#f8f1ed" stroke-width="1.5" stroke-linecap="round"/><path d="M544.0,205.0 C544.5,205.8 546.5,209.2 547.0,210.0 " fill="none" stroke="#f8f1ed" stroke-width="1.2" stroke-linecap="round"/><path d="M551.0,227.5 C553.5,226.5 564.3,227.1 566.8,228.0 C569.3,228.9 568.5,232.0 566.0,233.0 C563.5,234.0 554.5,234.9 552.0,234.0 C549.5,233.1 548.5,228.5 551.0,227.5 Z" fill="#dde4ea" stroke="#6a3f80" stroke-opacity="0.35" stroke-width="0.8"/><path d="M428.4,244.2 C430.2,243.2 438.7,243.4 440.6,244.5 C442.5,245.6 441.8,249.9 440.0,250.9 C438.2,251.9 431.9,251.6 430.0,250.5 C428.1,249.4 426.6,245.2 428.4,244.2 Z" fill="#f8f1ed" stroke="#6a3f80" stroke-opacity="0.35" stroke-width="0.8"/><path d="M448.0,259.7 C448.1,260.2 448.4,261.7 448.5,263.0 C448.6,264.3 448.4,266.8 448.4,267.5 " fill="none" stroke="#f8f1ed" stroke-width="2.6" stroke-linecap="round"/><path d="M438.4,259.7 C439.1,259.2 442.2,259.4 442.9,260.0 C443.6,260.6 443.2,262.5 442.5,263.0 C441.8,263.5 439.3,263.6 438.6,263.0 C437.9,262.4 437.7,260.2 438.4,259.7 Z" fill="#f8f1ed" stroke="#6a3f80" stroke-opacity="0.35" stroke-width="0.8"/><path d="M470.6,233.5 C471.8,233.9 475.6,235.1 478.0,236.0 C480.4,236.9 483.8,238.2 485.0,238.7 " fill="none" stroke="#f8f1ed" stroke-width="2.0" stroke-linecap="round"/><path d="M466.2,267.5 C467.1,266.6 470.9,266.9 471.7,268.0 C472.5,269.1 471.9,273.3 471.0,274.2 C470.1,275.1 467.3,274.6 466.5,273.5 C465.7,272.4 465.3,268.4 466.2,267.5 Z" fill="#f8f1ed" stroke="#6a3f80" stroke-opacity="0.35" stroke-width="0.8"/><path d="M486.5,283.0 C488.0,282.0 494.5,282.4 496.0,283.5 C497.5,284.6 497.0,288.5 495.5,289.5 C494.0,290.5 488.5,290.8 487.0,289.7 C485.5,288.6 485.0,284.0 486.5,283.0 Z" fill="#e6e8ec" stroke="#6a3f80" stroke-opacity="0.35" stroke-width="0.8"/><path d="M536.0,255.3 C537.9,253.3 545.6,254.4 548.0,256.0 C550.4,257.6 550.0,261.2 550.2,265.0 C550.4,268.8 550.7,276.4 549.0,278.6 C547.3,280.8 542.1,279.8 540.0,278.0 C537.9,276.2 537.2,271.8 536.5,268.0 C535.8,264.2 534.1,257.3 536.0,255.3 Z" fill="#d9e2e6" stroke="#6a3f80" stroke-opacity="0.35" stroke-width="0.8"/><path d="M522.4,277.0 C523.9,275.6 531.1,275.0 533.0,276.4 C534.9,277.8 535.0,283.9 533.5,285.3 C532.0,286.7 525.9,286.4 524.0,285.0 C522.1,283.6 520.9,278.4 522.4,277.0 Z" fill="#f8f1ed" stroke="#6a3f80" stroke-opacity="0.35" stroke-width="0.8"/><path d="M522.4,272.0 C523.1,271.3 526.1,271.3 526.9,272.0 C527.6,272.7 527.6,275.3 526.9,276.0 C526.1,276.7 523.1,276.7 522.4,276.0 C521.6,275.3 521.6,272.7 522.4,272.0 Z" fill="#f8f1ed" stroke="#6a3f80" stroke-opacity="0.35" stroke-width="0.8"/><path d="M504.7,250.0 C506.1,250.5 510.1,251.9 513.0,253.0 C516.0,254.1 520.8,255.8 522.4,256.4 " fill="none" stroke="#f8f1ed" stroke-width="2.0" stroke-linecap="round"/><path d="M563.3,244.0 C563.8,243.6 565.5,243.6 566.0,244.0 C566.5,244.4 566.5,246.2 566.0,246.6 C565.5,247.0 563.8,247.0 563.3,246.6 C562.8,246.2 562.8,244.4 563.3,244.0 Z" fill="#f8f1ed" stroke="#6a3f80" stroke-opacity="0.35" stroke-width="0.8"/><path d="M445.3,253.3 C445.6,253.0 446.9,253.0 447.2,253.3 C447.5,253.6 447.5,254.9 447.2,255.2 C446.9,255.5 445.6,255.5 445.3,255.2 C445.0,254.9 445.0,253.6 445.3,253.3 Z" fill="#3f1f4a" stroke="#6a3f80" stroke-opacity="0.35" stroke-width="0.8"/></g>
<g fill="#000"><text x="0" y="0" font-family="Liberation Serif" font-weight="bold" font-size="13.6" text-anchor="end" transform="translate(60.4 521.7) scale(1.14 1)" stroke="#000" stroke-width="0.3">0</text>
<text x="0" y="0" font-family="Liberation Serif" font-weight="bold" font-size="13.6" text-anchor="end" transform="translate(60.4 495.04) scale(1.14 1)" stroke="#000" stroke-width="0.3">100</text>
<text x="0" y="0" font-family="Liberation Serif" font-weight="bold" font-size="13.6" text-anchor="end" transform="translate(60.4 468.38) scale(1.14 1)" stroke="#000" stroke-width="0.3">200</text>
<text x="0" y="0" font-family="Liberation Serif" font-weight="bold" font-size="13.6" text-anchor="end" transform="translate(60.4 441.72) scale(1.14 1)" stroke="#000" stroke-width="0.3">300</text>
<text x="0" y="0" font-family="Liberation Serif" font-weight="bold" font-size="13.6" text-anchor="end" transform="translate(60.4 415.06) scale(1.14 1)" stroke="#000" stroke-width="0.3">400</text>
<text x="0" y="0" font-family="Liberation Serif" font-weight="bold" font-size="13.6" text-anchor="end" transform="translate(60.4 388.4) scale(1.14 1)" stroke="#000" stroke-width="0.3">500</text>
<text x="0" y="0" font-family="Liberation Serif" font-weight="bold" font-size="13.0" text-anchor="middle" transform="translate(93.6 529.6) scale(1.28 1)" stroke="#000" stroke-width="0.3">0</text>
<text x="0" y="0" font-family="Liberation Serif" font-weight="bold" font-size="13.0" text-anchor="middle" transform="translate(144.8 529.6) scale(1.28 1)" stroke="#000" stroke-width="0.3">1</text>
<text x="0" y="0" font-family="Liberation Serif" font-weight="bold" font-size="13.0" text-anchor="middle" transform="translate(196.0 529.6) scale(1.28 1)" stroke="#000" stroke-width="0.3">2</text>
<text x="0" y="0" font-family="Liberation Serif" font-weight="bold" font-size="13.0" text-anchor="middle" transform="translate(247.2 529.6) scale(1.28 1)" stroke="#000" stroke-width="0.3">3</text>
<text x="0" y="0" font-family="Liberation Serif" font-weight="bold" font-size="13.0" text-anchor="middle" transform="translate(298.4 529.6) scale(1.28 1)" stroke="#000" stroke-width="0.3">4</text>
<text x="0" y="0" font-family="Liberation Serif" font-weight="bold" font-size="13.6" text-anchor="end" transform="translate(420.8 520.2) scale(1.14 1)" stroke="#000" stroke-width="0.3">0</text>
<text x="0" y="0" font-family="Liberation Serif" font-weight="bold" font-size="13.6" text-anchor="end" transform="translate(420.8 487.12) scale(1.14 1)" stroke="#000" stroke-width="0.3">100</text>
<text x="0" y="0" font-family="Liberation Serif" font-weight="bold" font-size="13.6" text-anchor="end" transform="translate(420.8 454.05) scale(1.14 1)" stroke="#000" stroke-width="0.3">200</text>
<text x="0" y="0" font-family="Liberation Serif" font-weight="bold" font-size="13.6" text-anchor="end" transform="translate(420.8 420.97) scale(1.14 1)" stroke="#000" stroke-width="0.3">300</text>
<text x="0" y="0" font-family="Liberation Serif" font-weight="bold" font-size="13.6" text-anchor="end" transform="translate(420.8 387.9) scale(1.14 1)" stroke="#000" stroke-width="0.3">400</text>
<text x="0" y="0" font-family="Liberation Serif" font-weight="bold" font-size="13.0" text-anchor="middle" transform="translate(454.98 530.2) scale(1.28 1)" stroke="#000" stroke-width="0.3">0</text>
<text x="0" y="0" font-family="Liberation Serif" font-weight="bold" font-size="13.0" text-anchor="middle" transform="translate(505.54 530.2) scale(1.28 1)" stroke="#000" stroke-width="0.3">1</text>
<text x="0" y="0" font-family="Liberation Serif" font-weight="bold" font-size="13.0" text-anchor="middle" transform="translate(556.1 530.2) scale(1.28 1)" stroke="#000" stroke-width="0.3">2</text>
<text x="0" y="0" font-family="Liberation Serif" font-weight="bold" font-size="13.0" text-anchor="middle" transform="translate(606.66 530.2) scale(1.28 1)" stroke="#000" stroke-width="0.3">3</text>
<text x="0" y="0" font-family="Liberation Serif" font-weight="bold" font-size="13.0" text-anchor="middle" transform="translate(657.22 530.2) scale(1.28 1)" stroke="#000" stroke-width="0.3">4</text>
<text x="0" y="0" font-family="Liberation Serif" font-weight="bold" font-size="13.6" text-anchor="end" transform="translate(61.2 724.0) scale(1.14 1)" stroke="#000" stroke-width="0.3">0</text>
<text x="0" y="0" font-family="Liberation Serif" font-weight="bold" font-size="13.6" text-anchor="end" transform="translate(61.2 679.67) scale(1.14 1)" stroke="#000" stroke-width="0.3">100</text>
<text x="0" y="0" font-family="Liberation Serif" font-weight="bold" font-size="13.6" text-anchor="end" transform="translate(61.2 635.33) scale(1.14 1)" stroke="#000" stroke-width="0.3">200</text>
<text x="0" y="0" font-family="Liberation Serif" font-weight="bold" font-size="13.6" text-anchor="end" transform="translate(61.2 591.0) scale(1.14 1)" stroke="#000" stroke-width="0.3">300</text>
<text x="0" y="0" font-family="Liberation Serif" font-weight="bold" font-size="13.0" text-anchor="middle" transform="translate(95.25 734.0) scale(1.28 1)" stroke="#000" stroke-width="0.3">0</text>
<text x="0" y="0" font-family="Liberation Serif" font-weight="bold" font-size="13.0" text-anchor="middle" transform="translate(146.15 734.0) scale(1.28 1)" stroke="#000" stroke-width="0.3">1</text>
<text x="0" y="0" font-family="Liberation Serif" font-weight="bold" font-size="13.0" text-anchor="middle" transform="translate(197.05 734.0) scale(1.28 1)" stroke="#000" stroke-width="0.3">2</text>
<text x="0" y="0" font-family="Liberation Serif" font-weight="bold" font-size="13.0" text-anchor="middle" transform="translate(247.95 734.0) scale(1.28 1)" stroke="#000" stroke-width="0.3">3</text>
<text x="0" y="0" font-family="Liberation Serif" font-weight="bold" font-size="13.0" text-anchor="middle" transform="translate(298.85 734.0) scale(1.28 1)" stroke="#000" stroke-width="0.3">4</text>
<text x="0" y="0" font-family="Liberation Serif" font-weight="bold" font-size="13.6" text-anchor="end" transform="translate(420.8 723.8) scale(1.14 1)" stroke="#000" stroke-width="0.3">0</text>
<text x="0" y="0" font-family="Liberation Serif" font-weight="bold" font-size="13.6" text-anchor="end" transform="translate(420.8 690.67) scale(1.14 1)" stroke="#000" stroke-width="0.3">50</text>
<text x="0" y="0" font-family="Liberation Serif" font-weight="bold" font-size="13.6" text-anchor="end" transform="translate(420.8 657.55) scale(1.14 1)" stroke="#000" stroke-width="0.3">100</text>
<text x="0" y="0" font-family="Liberation Serif" font-weight="bold" font-size="13.6" text-anchor="end" transform="translate(420.8 624.42) scale(1.14 1)" stroke="#000" stroke-width="0.3">150</text>
<text x="0" y="0" font-family="Liberation Serif" font-weight="bold" font-size="13.6" text-anchor="end" transform="translate(420.8 591.3) scale(1.14 1)" stroke="#000" stroke-width="0.3">200</text>
<text x="0" y="0" font-family="Liberation Serif" font-weight="bold" font-size="13.0" text-anchor="middle" transform="translate(457.88 731.5) scale(1.28 1)" stroke="#000" stroke-width="0.3">0</text>
<text x="0" y="0" font-family="Liberation Serif" font-weight="bold" font-size="13.0" text-anchor="middle" transform="translate(508.24 731.5) scale(1.28 1)" stroke="#000" stroke-width="0.3">1</text>
<text x="0" y="0" font-family="Liberation Serif" font-weight="bold" font-size="13.0" text-anchor="middle" transform="translate(558.6 731.5) scale(1.28 1)" stroke="#000" stroke-width="0.3">2</text>
<text x="0" y="0" font-family="Liberation Serif" font-weight="bold" font-size="13.0" text-anchor="middle" transform="translate(608.96 731.5) scale(1.28 1)" stroke="#000" stroke-width="0.3">3</text>
<text x="0" y="0" font-family="Liberation Serif" font-weight="bold" font-size="13.0" text-anchor="middle" transform="translate(659.32 731.5) scale(1.28 1)" stroke="#000" stroke-width="0.3">4</text>
<text x="0" y="0" font-family="Liberation Serif" font-weight="bold" font-size="14.6" text-anchor="start" transform="translate(77.5 547.2) scale(1.0 1)" stroke="#000" stroke-width="0.3">Time after exosome injection (Week)</text>
<text x="0" y="0" font-family="Liberation Serif" font-weight="bold" font-size="14.6" text-anchor="start" transform="translate(438.0 547.4) scale(1.0 1)" stroke="#000" stroke-width="0.3">Time after exosome injection (Week)</text>
<text x="0" y="0" font-family="Liberation Serif" font-weight="bold" font-size="14.6" text-anchor="start" transform="translate(77.5 750.6) scale(1.0 1)" stroke="#000" stroke-width="0.3">Time after exosome injection (Week)</text>
<text x="0" y="0" font-family="Liberation Serif" font-weight="bold" font-size="14.6" text-anchor="start" transform="translate(444.5 749.2) scale(1.0 1)" stroke="#000" stroke-width="0.3">Time after exosome injection (Week)</text>
<text x="0" y="0" font-family="Liberation Serif" font-weight="bold" font-size="14.4" text-anchor="start" transform="translate(11.5 519.7) rotate(-90) scale(1.0 1)" stroke="#000" stroke-width="0.3">Number of primordial</text>
<text x="0" y="0" font-family="Liberation Serif" font-weight="bold" font-size="14.7" text-anchor="start" transform="translate(28.8 507.9) rotate(-90) scale(1.0 1)" stroke="#000" stroke-width="0.3">follicles  per ovary</text>
<text x="0" y="0" font-family="Liberation Serif" font-weight="bold" font-size="15.0" text-anchor="start" transform="translate(368.8 511.6) rotate(-90) scale(1.0 1)" stroke="#000" stroke-width="0.3">Number of Primary</text>
<text x="0" y="0" font-family="Liberation Serif" font-weight="bold" font-size="15.1" text-anchor="start" transform="translate(385 506.3) rotate(-90) scale(1.0 1)" stroke="#000" stroke-width="0.3">follicles per ovary</text>
<text x="0" y="0" font-family="Liberation Serif" font-weight="bold" font-size="15.4" text-anchor="start" transform="translate(12.0 730.0) rotate(-90) scale(1.0 1)" stroke="#000" stroke-width="0.3">Number of secondary</text>
<text x="0" y="0" font-family="Liberation Serif" font-weight="bold" font-size="15.5" text-anchor="start" transform="translate(30.0 718.3) rotate(-90) scale(1.0 1)" stroke="#000" stroke-width="0.3">follicles per ovary</text>
<text x="0" y="0" font-family="Liberation Serif" font-weight="bold" font-size="14.7" text-anchor="start" transform="translate(371.5 707.6) rotate(-90) scale(1.0 1)" stroke="#000" stroke-width="0.3">Number of antral</text>
<text x="0" y="0" font-family="Liberation Serif" font-weight="bold" font-size="14.8" text-anchor="start" transform="translate(388.8 708.6) rotate(-90) scale(1.0 1)" stroke="#000" stroke-width="0.3">follicles per ovary</text>
<text x="0" y="0" font-family="Liberation Sans" font-weight="bold" font-size="25" text-anchor="start" transform="translate(7.5 373.3) scale(1.0 1)" stroke="#000" stroke-width="0.3">a</text>
<text x="0" y="0" font-family="Liberation Sans" font-weight="bold" font-size="25" text-anchor="start" transform="translate(361 373.5) scale(1.0 1)" stroke="#000" stroke-width="0.3">b</text>
<text x="0" y="0" font-family="Liberation Sans" font-weight="bold" font-size="25" text-anchor="start" transform="translate(7.5 573) scale(1.0 1)" stroke="#000" stroke-width="0.3">c</text>
<text x="0" y="0" font-family="Liberation Sans" font-weight="bold" font-size="25" text-anchor="start" transform="translate(360.5 573) scale(1.0 1)" stroke="#000" stroke-width="0.3">d</text>
<text x="0" y="0" font-family="Liberation Serif" font-weight="bold" font-size="14.8" text-anchor="start" transform="translate(184.5 344.3) scale(1.0 1)" stroke="#000" stroke-width="0.3" word-spacing="-2">Normal control</text>
<text x="0" y="0" font-family="Liberation Serif" font-weight="bold" font-size="14.8" text-anchor="start" transform="translate(307 344.3) scale(1.0 1)" stroke="#000" stroke-width="0.3">POI</text>
<text x="0" y="0" font-family="Liberation Serif" font-weight="bold" font-size="14.8" text-anchor="start" transform="translate(359.5 344.3) scale(1.0 1)" stroke="#000" stroke-width="0.3">POI+Exosomes</text>
<text x="0" y="0" font-family="Liberation Serif" font-weight="bold" font-size="16.6" text-anchor="start" transform="translate(127.5 12.3) scale(1.0 1)" stroke="#000" stroke-width="0.3">Control group</text>
<text x="0" y="0" font-family="Liberation Serif" font-weight="bold" font-size="16.6" text-anchor="start" transform="translate(348.5 12.3) scale(1.0 1)" stroke="#000" stroke-width="0.3">POI injected Exosomes</text>
<text x="0" y="0" font-family="Liberation Serif" font-weight="bold" font-size="16.6" text-anchor="middle" transform="translate(173.3 168.3) scale(1.0 1)" stroke="#000" stroke-width="0.3">Normal</text>
<text x="0" y="0" font-family="Liberation Serif" font-weight="bold" font-size="16.6" text-anchor="middle" transform="translate(337.4 168.2) scale(1.0 1)" stroke="#000" stroke-width="0.3">7 day</text>
<text x="0" y="0" font-family="Liberation Serif" font-weight="bold" font-size="16.6" text-anchor="middle" transform="translate(495.2 168.4) scale(1.0 1)" stroke="#000" stroke-width="0.3">14 day</text>
<text x="0" y="0" font-family="Liberation Serif" font-weight="bold" font-size="16.6" text-anchor="middle" transform="translate(183.9 310.7) scale(1.0 1)" stroke="#000" stroke-width="0.3">POI+PBS</text>
<text x="0" y="0" font-family="Liberation Serif" font-weight="bold" font-size="16.6" text-anchor="middle" transform="translate(343.9 310.9) scale(1.0 1)" stroke="#000" stroke-width="0.3">21 day</text>
<text x="0" y="0" font-family="Liberation Serif" font-weight="bold" font-size="16.6" text-anchor="middle" transform="translate(497.2 310.7) scale(1.0 1)" stroke="#000" stroke-width="0.3">28 day</text>
<text x="0" y="0" font-family="Liberation Sans" font-weight="bold" font-size="21" text-anchor="start" transform="translate(80.0 474.2) scale(1.0 1)" letter-spacing="1.6">***</text>
<text x="0" y="0" font-family="Liberation Sans" font-weight="bold" font-size="21" text-anchor="start" transform="translate(92.4 466.8) scale(1.0 1)" letter-spacing="1.6">***</text>
<text x="0" y="0" font-family="Liberation Sans" font-weight="bold" font-size="21" text-anchor="start" transform="translate(130.5 474.2) scale(1.0 1)" letter-spacing="1.6">***</text>
<text x="0" y="0" font-family="Liberation Sans" font-weight="bold" font-size="21" text-anchor="start" transform="translate(143.5 466.8) scale(1.0 1)" letter-spacing="1.6">***</text>
<text x="0" y="0" font-family="Liberation Sans" font-weight="bold" font-size="21" text-anchor="start" transform="translate(182.2 473.3) scale(1.0 1)" letter-spacing="1.6">***</text>
<text x="0" y="0" font-family="Liberation Sans" font-weight="bold" font-size="21" text-anchor="start" transform="translate(233.2 475.7) scale(1.0 1)" letter-spacing="1.6">***</text>
<text x="0" y="0" font-family="Liberation Sans" font-weight="bold" font-size="21" text-anchor="start" transform="translate(285.7 472.3) scale(1.0 1)" letter-spacing="1.6">***</text>
<text x="0" y="0" font-family="Liberation Sans" font-weight="bold" font-size="21" text-anchor="start" transform="translate(439.5 480.3) scale(1.0 1)" letter-spacing="1.6">***</text>
<text x="0" y="0" font-family="Liberation Sans" font-weight="bold" font-size="21" text-anchor="start" transform="translate(454.7 472.4) scale(1.0 1)" letter-spacing="1.6">***</text>
<text x="0" y="0" font-family="Liberation Sans" font-weight="bold" font-size="21" text-anchor="start" transform="translate(489.7 482.9) scale(1.0 1)" letter-spacing="1.6">***</text>
<text x="0" y="0" font-family="Liberation Sans" font-weight="bold" font-size="21" text-anchor="start" transform="translate(506.3 458.5) scale(1.0 1)" letter-spacing="1.6">**</text>
<text x="0" y="0" font-family="Liberation Sans" font-weight="bold" font-size="21" text-anchor="start" transform="translate(540.1 478.3) scale(1.0 1)" letter-spacing="1.6">***</text>
<text x="0" y="0" font-family="Liberation Sans" font-weight="bold" font-size="21" text-anchor="start" transform="translate(590.4 476.0) scale(1.0 1)" letter-spacing="1.6">***</text>
<text x="0" y="0" font-family="Liberation Sans" font-weight="bold" font-size="21" text-anchor="start" transform="translate(640.1 480.3) scale(1.0 1)" letter-spacing="1.6">***</text>
<text x="0" y="0" font-family="Liberation Sans" font-weight="bold" font-size="21" text-anchor="start" transform="translate(80.5 680.6) scale(1.0 1)" letter-spacing="1.6">***</text>
<text x="0" y="0" font-family="Liberation Sans" font-weight="bold" font-size="21" text-anchor="start" transform="translate(92.8 671.8) scale(1.0 1)" letter-spacing="1.6">***</text>
<text x="0" y="0" font-family="Liberation Sans" font-weight="bold" font-size="21" text-anchor="start" transform="translate(131.3 680.6) scale(1.0 1)" letter-spacing="1.6">***</text>
<text x="0" y="0" font-family="Liberation Sans" font-weight="bold" font-size="21" text-anchor="start" transform="translate(148.8 662.2) scale(1.0 1)" letter-spacing="1.6">**</text>
<text x="0" y="0" font-family="Liberation Sans" font-weight="bold" font-size="21" text-anchor="start" transform="translate(183.0 680.9) scale(1.0 1)" letter-spacing="1.6">***</text>
<text x="0" y="0" font-family="Liberation Sans" font-weight="bold" font-size="21" text-anchor="start" transform="translate(233.0 682.3) scale(1.0 1)" letter-spacing="1.6">***</text>
<text x="0" y="0" font-family="Liberation Sans" font-weight="bold" font-size="21" text-anchor="start" transform="translate(282.8 683.9) scale(1.0 1)" letter-spacing="1.6">***</text>
<text x="0" y="0" font-family="Liberation Sans" font-weight="bold" font-size="21" text-anchor="start" transform="translate(442.4 691.8) scale(1.0 1)" letter-spacing="1.6">***</text>
<text x="0" y="0" font-family="Liberation Sans" font-weight="bold" font-size="21" text-anchor="start" transform="translate(454.0 683.8) scale(1.0 1)" letter-spacing="1.6">***</text>
<text x="0" y="0" font-family="Liberation Sans" font-weight="bold" font-size="21" text-anchor="start" transform="translate(492.1 694.5) scale(1.0 1)" letter-spacing="1.6">***</text>
<text x="0" y="0" font-family="Liberation Sans" font-weight="bold" font-size="21" text-anchor="start" transform="translate(505.9 683.8) scale(1.0 1)" letter-spacing="1.6">***</text>
<text x="0" y="0" font-family="Liberation Sans" font-weight="bold" font-size="21" text-anchor="start" transform="translate(542.2 691.0) scale(1.0 1)" letter-spacing="1.6">***</text>
<text x="0" y="0" font-family="Liberation Sans" font-weight="bold" font-size="21" text-anchor="start" transform="translate(558.6 662.5) scale(1.0 1)" letter-spacing="1.6">**</text>
<text x="0" y="0" font-family="Liberation Sans" font-weight="bold" font-size="21" text-anchor="start" transform="translate(593.6 689.5) scale(1.0 1)" letter-spacing="1.6">***</text>
<text x="0" y="0" font-family="Liberation Sans" font-weight="bold" font-size="21" text-anchor="start" transform="translate(643.5 689.9) scale(1.0 1)" letter-spacing="1.6">***</text></g>
<rect x="167" y="332" width="15" height="14.5" fill="#d6d6d6"/>
<rect x="289" y="332" width="15.5" height="14.5" fill="url(#brick)"/>
<rect x="341" y="332" width="16" height="14.5" fill="url(#teal)"/>
<rect x="71.2" y="532.0" width="237.3" height="2.6" fill="#000"/>
<rect x="431" y="532.8000000000001" width="237.5" height="2.6" fill="#000"/>
<rect x="72.3" y="736.2" width="236.7" height="2.6" fill="#000"/>
<rect x="437.3" y="734.8000000000001" width="237.99999999999994" height="2.6" fill="#000"/>
<path d="M118.5 27.5 V21.3 H228 V27.5 M173 21.3 V15.3" fill="none" stroke="#333" stroke-width="1.3"/>
<path d="M288.6 27.5 V21.5 H543.5 V27.5 M416.5 21.5 V16.4" fill="none" stroke="#333" stroke-width="1.3"/>
</svg>
</body></html>
